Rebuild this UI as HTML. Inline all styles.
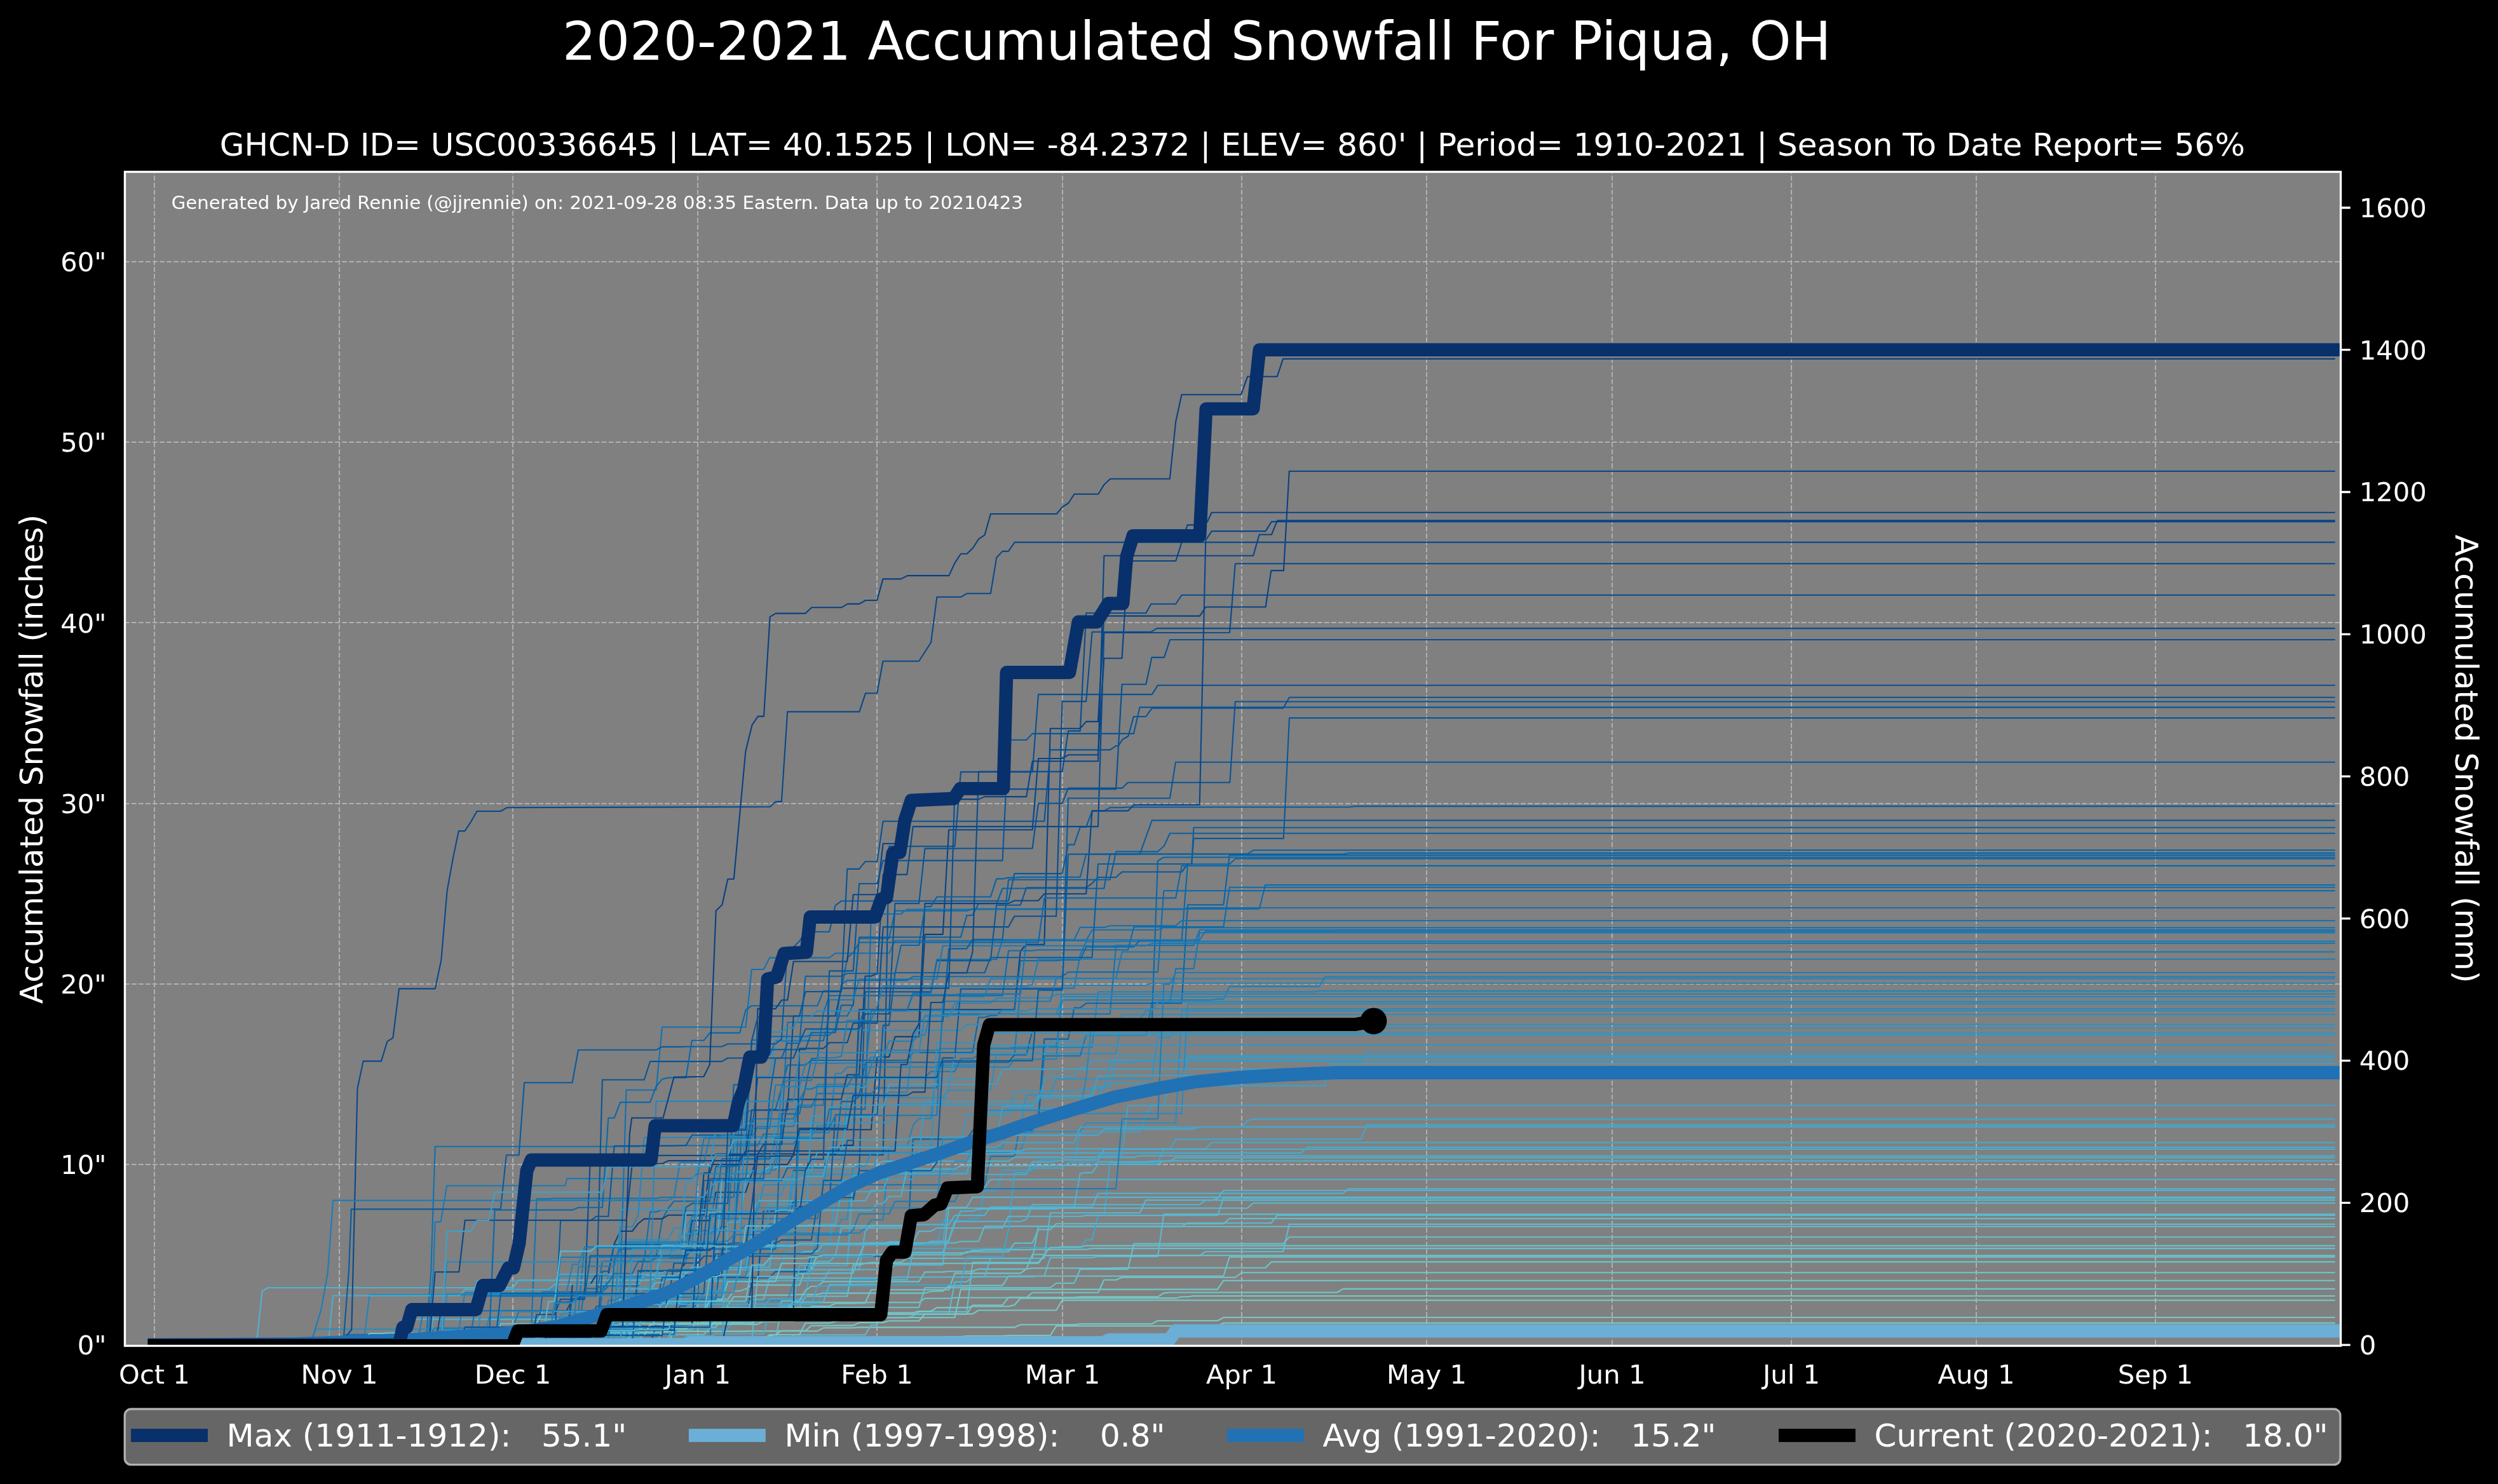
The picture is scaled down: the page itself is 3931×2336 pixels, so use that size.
<!DOCTYPE html><html><head><meta charset="utf-8"><title>2020-2021 Accumulated Snowfall For Piqua, OH</title>
<style>html,body{margin:0;padding:0;background:#000;}body{width:3931px;height:2336px;overflow:hidden;}svg{display:block;}text{font-family:"DejaVu Sans", "Liberation Sans", sans-serif;fill:#fff;white-space:pre;}svg{will-change:transform;}</style></head><body>
<svg xmlns="http://www.w3.org/2000/svg" width="3931" height="2336" viewBox="0 0 3931 2336">
<rect x="0" y="0" width="3931" height="2336" fill="#000"/>
<rect x="196.5" y="270.5" width="3487.0" height="1848.0" fill="#808080"/>
<defs><clipPath id="ax"><rect x="196.5" y="270.5" width="3487.0" height="1848.0"/></clipPath></defs>
<path d="M243 2117.2V270.5M534 2117.2V270.5M807 2117.2V270.5M1098 2117.2V270.5M1380 2117.2V270.5M1672 2117.2V270.5M1954 2117.2V270.5M2245 2117.2V270.5M2537 2117.2V270.5M2819 2117.2V270.5M3110 2117.2V270.5M3392 2117.2V270.5M196 1833H3683.5M196 1549H3683.5M196 1265H3683.5M196 980H3683.5M196 696H3683.5M196 412H3683.5" stroke="#b0b0b0" stroke-width="2" fill="none" stroke-dasharray="7.708 3.333"/>
<g clip-path="url(#ax)">
<path d="M243.0 2117.2 L1051.3 2117.2 L1060.7 2092.4 L1088.9 2092.4 L1098.3 2070.3 L1107.7 2070.3 L1117.1 2067.3 L1154.7 2067.3 L1164.1 2061.6 L1239.3 2061.6 L1248.7 2050.3 L1446.1 2050.3 L1455.5 2043.7 L1493.1 2043.7 L1502.5 2042.8 L1615.2 2042.8 L1624.6 2034.8 L1728.0 2034.8 L1737.4 2014.8 L1756.2 2014.8 L1765.6 2010.8 L1944.2 2010.8 L1953.6 2003.2 L3673.6 2003.2" stroke="#70c6c8" stroke-width="2.083" fill="none" stroke-linejoin="round" stroke-linecap="square"/>
<path d="M243.0 2117.2 L919.7 2117.2 L929.1 2103.4 L938.5 2102.8 L994.9 2102.8 L1004.3 2097.4 L1041.9 2097.4 L1051.3 2095.6 L1173.5 2095.6 L1182.9 2095.2 L1220.5 2095.2 L1229.9 2095.2 L1286.3 2095.2 L1295.7 2090.3 L1342.7 2090.3 L1352.1 2089.4 L1596.4 2089.4 L1605.8 2085.3 L1690.4 2085.3 L1699.8 2084.0 L1812.6 2084.0 L1822.0 2079.0 L1916.0 2079.0 L1925.4 2073.8 L3673.6 2073.8" stroke="#79cbc5" stroke-width="2.083" fill="none" stroke-linejoin="round" stroke-linecap="square"/>
<path d="M243.0 2117.2 L778.7 2117.2 L788.1 2113.3 L957.3 2113.3 L966.7 2072.6 L976.1 2072.6 L985.5 2072.5 L1098.3 2072.5 L1107.7 2067.0 L1117.1 2045.2 L1145.3 2045.2 L1154.7 2032.3 L1164.1 2032.3 L1173.5 2029.1 L1182.9 2022.9 L1258.1 2022.9 L1267.5 1995.9 L1276.9 1995.9 L1286.3 1976.7 L1417.9 1976.7 L1427.3 1972.2 L1521.3 1972.2 L1530.6 1968.2 L1540.0 1968.2 L1549.4 1967.2 L1615.2 1967.2 L1624.6 1966.7 L1709.2 1966.7 L1718.6 1965.1 L3673.6 1965.1" stroke="#68c1ca" stroke-width="2.083" fill="none" stroke-linejoin="round" stroke-linecap="square"/>
<path d="M243.0 2117.2 L844.5 2117.2 L853.9 2033.7 L947.9 2033.7 L957.3 2024.2 L1004.3 2024.2 L1013.7 1977.5 L1032.5 1977.5 L1041.9 1919.9 L1051.3 1902.5 L1060.7 1890.7 L1117.1 1890.7 L1126.5 1836.1 L1154.7 1836.1 L1164.1 1830.9 L1173.5 1661.3 L1211.1 1661.3 L1220.5 1638.3 L1295.7 1638.3 L1305.1 1599.3 L1333.3 1599.3 L1342.7 1581.5 L1352.1 1477.3 L1399.1 1477.3 L1408.5 1433.8 L1521.3 1433.8 L1530.6 1430.7 L1981.8 1430.7 L1991.2 1393.0 L3673.6 1393.0" stroke="#0a6aad" stroke-width="2.083" fill="none" stroke-linejoin="round" stroke-linecap="square"/>
<path d="M243.0 2117.2 L609.6 2117.2 L619.0 2100.4 L797.5 2100.4 L806.9 2086.2 L882.1 2086.2 L891.5 2085.7 L947.9 2085.7 L957.3 2067.0 L1079.5 2067.0 L1088.9 2062.5 L1145.3 2062.5 L1154.7 2058.9 L1164.1 2052.2 L1286.3 2052.2 L1295.7 2031.6 L1333.3 2031.6 L1342.7 2014.0 L1389.7 2014.0 L1399.1 1959.6 L1474.3 1959.6 L1483.7 1921.4 L1521.3 1921.4 L1530.6 1918.1 L1540.0 1918.1 L1549.4 1874.2 L1568.2 1874.2 L1577.6 1841.9 L1624.6 1841.9 L1634.0 1825.9 L1690.4 1825.9 L1699.8 1781.4 L1793.8 1781.4 L1803.2 1756.6 L1812.6 1739.2 L1831.4 1739.2 L1840.8 1709.1 L2085.2 1709.1 L2094.6 1674.4 L3673.6 1674.4" stroke="#3c9fc8" stroke-width="2.083" fill="none" stroke-linejoin="round" stroke-linecap="square"/>
<path d="M243.0 2117.2 L572.0 2117.2 L581.4 2038.1 L938.5 2038.1 L947.9 2036.3 L957.3 2009.7 L1173.5 2009.7 L1182.9 1964.5 L1211.1 1964.5 L1220.5 1941.0 L1352.1 1941.0 L1361.5 1933.4 L1370.9 1920.3 L1389.7 1920.3 L1399.1 1805.7 L1427.3 1805.7 L1436.7 1771.5 L1446.1 1760.6 L1464.9 1760.6 L1474.3 1676.6 L1540.0 1676.6 L1549.4 1650.0 L1587.0 1650.0 L1596.4 1648.6 L1718.6 1648.6 L1728.0 1561.3 L2066.4 1561.3 L2075.8 1559.9 L3673.6 1559.9" stroke="#2283ba" stroke-width="2.083" fill="none" stroke-linejoin="round" stroke-linecap="square"/>
<path d="M243.0 2117.2 L487.4 2117.2 L496.8 2108.4 L637.8 2108.4 L647.2 2076.9 L966.7 2076.9 L976.1 2043.3 L985.5 2028.8 L1041.9 2028.8 L1051.3 2024.5 L1098.3 2024.5 L1107.7 2016.9 L1117.1 2016.5 L1192.3 2016.5 L1201.7 2015.8 L1258.1 2015.8 L1267.5 2015.7 L1295.7 2015.7 L1305.1 1998.9 L1352.1 1998.9 L1361.5 1938.2 L1370.9 1929.1 L1417.9 1929.1 L1427.3 1927.6 L1493.1 1927.6 L1502.5 1913.1 L1549.4 1913.1 L1558.8 1899.7 L1690.4 1899.7 L1699.8 1847.2 L1709.2 1845.9 L1718.6 1845.9 L1728.0 1832.7 L1822.0 1832.7 L1831.4 1827.5 L3673.6 1827.5" stroke="#4db2d3" stroke-width="2.083" fill="none" stroke-linejoin="round" stroke-linecap="square"/>
<path d="M243.0 2117.2 L750.5 2117.2 L759.9 2029.6 L872.7 2029.6 L882.1 2008.7 L976.1 2008.7 L985.5 1951.6 L1051.3 1951.6 L1060.7 1933.0 L1079.5 1933.0 L1088.9 1915.0 L1154.7 1915.0 L1164.1 1825.2 L1323.9 1825.2 L1333.3 1728.0 L1483.7 1728.0 L1493.1 1716.0 L1540.0 1716.0 L1549.4 1715.7 L1558.8 1715.7 L1568.2 1658.4 L1756.2 1658.4 L1765.6 1596.9 L3673.6 1596.9" stroke="#2c8ebf" stroke-width="2.083" fill="none" stroke-linejoin="round" stroke-linecap="square"/>
<path d="M243.0 2117.2 L525.0 2117.2 L534.4 2115.4 L581.4 2115.4 L590.8 2100.6 L675.3 2100.6 L684.7 2090.5 L806.9 2090.5 L816.3 2064.4 L910.3 2064.4 L919.7 1963.0 L1070.1 1963.0 L1079.5 1942.1 L1117.1 1942.1 L1126.5 1936.2 L1135.9 1931.0 L1145.3 1931.0 L1154.7 1800.8 L1248.7 1800.8 L1258.1 1782.1 L1295.7 1782.1 L1305.1 1772.8 L1314.5 1695.6 L1455.5 1695.6 L1464.9 1686.8 L1502.5 1686.8 L1511.9 1666.3 L1530.6 1666.3 L1540.0 1660.1 L1596.4 1660.1 L1605.8 1555.5 L1690.4 1555.5 L1699.8 1503.0 L1709.2 1482.5 L1756.2 1482.5 L1765.6 1481.7 L3673.6 1481.7" stroke="#1878b4" stroke-width="2.083" fill="none" stroke-linejoin="round" stroke-linecap="square"/>
<path d="M243.0 2117.2 L816.3 2117.2 L825.7 2095.7 L994.9 2095.7 L1004.3 2000.7 L1070.1 2000.7 L1079.5 1985.9 L1088.9 1921.4 L1117.1 1921.4 L1126.5 1876.7 L1173.5 1876.7 L1182.9 1847.9 L1192.3 1816.3 L1248.7 1816.3 L1258.1 1778.2 L1370.9 1778.2 L1380.3 1663.9 L1399.1 1663.9 L1408.5 1631.9 L1446.1 1631.9 L1455.5 1470.9 L1483.7 1470.9 L1493.1 1306.3 L1624.6 1306.3 L1634.0 1194.0 L1671.6 1194.0 L1681.0 1188.3 L1728.0 1188.3 L1737.4 1036.3 L1765.6 1036.3 L1775.0 883.0 L1783.9 883.0 L1850.3 883.0 L1859.5 854.0 L1868.7 826.4 L1877.8 826.4 L1900.0 821.3 L1906.7 806.7 L3673.6 806.7" stroke="#084384" stroke-width="2.083" fill="none" stroke-linejoin="round" stroke-linecap="square"/>
<path d="M243.0 2117.2 L910.3 2117.2 L919.7 2088.7 L929.1 2088.7 L938.5 2085.9 L947.9 2085.9 L957.3 2076.7 L994.9 2076.7 L1004.3 2073.7 L1088.9 2073.7 L1098.3 2040.1 L1107.7 1858.2 L1229.9 1858.2 L1239.3 1838.2 L1295.7 1838.2 L1305.1 1816.7 L1314.5 1816.7 L1323.9 1733.9 L1342.7 1733.9 L1352.1 1725.0 L1361.5 1672.2 L1587.0 1672.2 L1596.4 1660.4 L1615.2 1660.4 L1624.6 1621.8 L1643.4 1621.8 L1652.8 1611.7 L1812.6 1611.7 L1822.0 1355.0 L1831.4 1349.5 L3673.6 1349.5" stroke="#0866a9" stroke-width="2.083" fill="none" stroke-linejoin="round" stroke-linecap="square"/>
<path d="M243.0 2117.2 L825.7 2117.2 L835.1 2098.4 L910.3 2098.4 L919.7 2028.4 L938.5 2028.4 L947.9 2024.0 L976.1 2024.0 L985.5 1715.8 L1032.5 1715.8 L1041.9 1616.8 L1173.5 1616.8 L1182.9 1526.0 L1201.7 1526.0 L1211.1 1507.6 L1305.1 1507.6 L1314.5 1500.5 L1399.1 1500.5 L1408.5 1480.8 L1709.2 1480.8 L1718.6 1463.7 L1822.0 1463.7 L1831.4 1460.3 L3673.6 1460.3" stroke="#1171b1" stroke-width="2.083" fill="none" stroke-linejoin="round" stroke-linecap="square"/>
<path d="M243.0 2117.2 L938.5 2117.2 L947.9 2109.9 L985.5 2109.9 L994.9 2050.9 L1051.3 2050.9 L1060.7 1988.2 L1098.3 1988.2 L1107.7 1977.2 L1211.1 1977.2 L1220.5 1957.6 L1229.9 1920.5 L1239.3 1920.5 L1248.7 1891.1 L1314.5 1891.1 L1323.9 1889.7 L1342.7 1889.7 L1352.1 1841.3 L1361.5 1561.3 L1464.9 1561.3 L1474.3 1512.1 L1558.8 1512.1 L1568.2 1424.7 L1605.8 1424.7 L1615.2 1397.3 L1709.2 1397.3 L1718.6 1390.6 L1728.0 1381.0 L1756.2 1381.0 L1765.6 1372.5 L1859.6 1372.5 L1869.0 1360.0 L1875.3 1360.0 L1878.4 1319.9 L2019.9 1319.9 L2029.0 1130.1 L3673.6 1130.1" stroke="#085799" stroke-width="2.083" fill="none" stroke-linejoin="round" stroke-linecap="square"/>
<path d="M243.0 2117.2 L835.1 2117.2 L844.5 1887.1 L863.3 1887.1 L872.7 1886.4 L1032.5 1886.4 L1041.9 1884.8 L1154.7 1884.8 L1164.1 1752.7 L1173.5 1752.7 L1182.9 1747.3 L1229.9 1747.3 L1239.3 1746.2 L1248.7 1746.2 L1258.1 1742.8 L1276.9 1742.8 L1286.3 1721.4 L1370.9 1721.4 L1380.3 1712.5 L1474.3 1712.5 L1483.7 1596.1 L1746.8 1596.1 L1756.2 1488.1 L1878.4 1488.1 L1887.8 1463.7 L3673.6 1463.7" stroke="#1373b2" stroke-width="2.083" fill="none" stroke-linejoin="round" stroke-linecap="square"/>
<path d="M243.0 2117.2 L1023.1 2117.2 L1032.5 2084.8 L1173.5 2084.8 L1182.9 2018.0 L1192.3 2018.0 L1201.7 1906.5 L1239.3 1906.5 L1248.7 1842.6 L1267.5 1842.6 L1276.9 1817.9 L1389.7 1817.9 L1399.1 1332.3 L1502.5 1332.3 L1511.9 1215.1 L1624.6 1215.1 L1634.0 1093.1 L1760.0 1093.1 L1812.8 1093.1 L1822.0 1078.8 L3673.6 1078.8" stroke="#085093" stroke-width="2.083" fill="none" stroke-linejoin="round" stroke-linecap="square"/>
<path d="M243.0 2117.2 L572.0 2117.2 L581.4 2102.7 L929.1 2102.7 L938.5 2099.0 L1023.1 2099.0 L1032.5 2089.3 L1041.9 2089.3 L1051.3 2086.2 L1060.7 2086.2 L1070.1 2082.9 L1135.9 2082.9 L1145.3 2054.8 L1154.7 2041.2 L1182.9 2041.2 L1192.3 2038.6 L1248.7 2038.6 L1258.1 2037.6 L1286.3 2037.6 L1295.7 2035.6 L1455.5 2035.6 L1464.9 2033.0 L1474.3 2032.4 L1483.7 2032.4 L1493.1 2024.0 L1521.3 2024.0 L1530.6 2023.6 L1577.6 2023.6 L1587.0 2008.7 L1925.4 2008.7 L1934.8 1978.6 L3673.6 1978.6" stroke="#6cc4c9" stroke-width="2.083" fill="none" stroke-linejoin="round" stroke-linecap="square"/>
<path d="M243.0 2117.2 L1117.1 2117.2 L1126.5 1918.3 L1286.3 1918.3 L1295.7 1865.0 L1549.4 1865.0 L1558.8 1820.1 L1596.4 1820.1 L1605.8 1765.7 L1634.0 1765.7 L1643.4 1662.1 L1699.8 1662.1 L1709.2 1629.6 L1803.2 1629.6 L1812.6 1578.3 L1840.8 1578.3 L1850.2 1524.9 L1878.4 1524.9 L1887.8 1468.2 L3673.6 1468.2" stroke="#1576b3" stroke-width="2.083" fill="none" stroke-linejoin="round" stroke-linecap="square"/>
<path d="M243.0 2117.2 L694.1 2117.2 L703.5 2093.5 L788.1 2093.5 L797.5 2089.1 L1041.9 2089.1 L1051.3 2071.5 L1088.9 2071.5 L1098.3 2070.8 L1135.9 2070.8 L1145.3 1983.8 L1173.5 1983.8 L1182.9 1963.2 L1201.7 1963.2 L1211.1 1903.3 L1239.3 1903.3 L1248.7 1844.0 L1540.0 1844.0 L1549.4 1750.2 L1587.0 1750.2 L1596.4 1744.6 L1709.2 1744.6 L1718.6 1711.1 L1746.8 1711.1 L1756.2 1661.8 L3673.6 1661.8" stroke="#379ac5" stroke-width="2.083" fill="none" stroke-linejoin="round" stroke-linecap="square"/>
<path d="M243.0 2117.2 L397.0 2117.2 L405.0 2103.0 L412.6 2032.4 L421.8 2027.0 L700.0 2027.0 L806.9 2027.0 L816.3 2015.1 L1023.1 2015.1 L1032.5 2011.9 L1126.5 2011.9 L1135.9 2011.5 L1173.5 2011.5 L1182.9 1999.1 L1276.9 1999.1 L1286.3 1985.9 L1305.1 1985.9 L1314.5 1976.9 L1323.9 1933.0 L1333.3 1933.0 L1342.7 1933.0 L1427.3 1933.0 L1436.7 1915.5 L1464.9 1915.5 L1474.3 1888.0 L1483.7 1873.0 L1493.1 1873.0 L1502.5 1869.3 L1549.4 1869.3 L1558.8 1856.8 L3673.6 1856.8" stroke="#4fb3d3" stroke-width="2.083" fill="none" stroke-linejoin="round" stroke-linecap="square"/>
<path d="M243.0 2117.2 L694.1 2117.2 L703.5 2113.0 L722.3 2113.0 L731.7 2101.5 L900.9 2101.5 L910.3 2077.7 L929.1 2077.7 L938.5 2056.2 L1032.5 2056.2 L1041.9 2011.1 L1211.1 2011.1 L1220.5 2001.6 L1267.5 2001.6 L1276.9 1977.4 L1389.7 1977.4 L1399.1 1977.2 L1427.3 1977.2 L1436.7 1793.3 L1521.3 1793.3 L1530.6 1779.5 L1624.6 1779.5 L1634.0 1759.6 L1643.4 1635.6 L1681.0 1635.6 L1690.4 1586.6 L1699.8 1586.6 L1709.2 1579.2 L1859.6 1579.2 L1869.0 1424.2 L1925.4 1424.2 L1934.8 1346.1 L3673.6 1346.1" stroke="#0864a8" stroke-width="2.083" fill="none" stroke-linejoin="round" stroke-linecap="square"/>
<path d="M243.0 2117.2 L722.3 2117.2 L731.7 2108.2 L1004.3 2108.2 L1013.7 2100.8 L1107.7 2100.8 L1117.1 2089.2 L1126.5 2089.2 L1135.9 2075.5 L1154.7 2075.5 L1164.1 2074.5 L1427.3 2074.5 L1436.7 2071.7 L1446.1 2064.9 L1521.3 2064.9 L1530.6 1987.0 L1634.0 1987.0 L1643.4 1976.3 L1887.8 1976.3 L1897.2 1970.2 L2019.4 1970.2 L2028.8 1927.0 L3673.6 1927.0" stroke="#61bdcd" stroke-width="2.083" fill="none" stroke-linejoin="round" stroke-linecap="square"/>
<path d="M243.0 2117.2 L891.5 2117.2 L900.9 2109.8 L910.3 2109.8 L919.7 2109.7 L985.5 2109.7 L994.9 2056.5 L1041.9 2056.5 L1051.3 2051.0 L1126.5 2051.0 L1135.9 2049.0 L1173.5 2049.0 L1182.9 2047.3 L1239.3 2047.3 L1248.7 2018.9 L1258.1 2004.5 L1267.5 2004.5 L1276.9 1989.6 L1286.3 1941.6 L1314.5 1941.6 L1323.9 1919.2 L1333.3 1919.2 L1342.7 1836.1 L1361.5 1836.1 L1370.9 1814.2 L1380.3 1814.2 L1389.7 1814.2 L1605.8 1814.2 L1615.2 1781.3 L1699.8 1781.3 L1709.2 1767.8 L1850.2 1767.8 L1859.6 1591.0 L3673.6 1591.0" stroke="#2b8cbe" stroke-width="2.083" fill="none" stroke-linejoin="round" stroke-linecap="square"/>
<path d="M243.0 2117.2 L891.5 2117.2 L900.9 2021.9 L929.1 2021.9 L938.5 2006.3 L957.3 2006.3 L966.7 1957.7 L976.1 1938.0 L994.9 1938.0 L1004.3 1926.0 L1013.7 1918.6 L1041.9 1918.6 L1051.3 1912.8 L1107.7 1912.8 L1117.1 1833.0 L1239.3 1833.0 L1248.7 1817.4 L1314.5 1817.4 L1323.9 1802.9 L1342.7 1802.9 L1352.1 1589.2 L1596.4 1589.2 L1605.8 1497.0 L1615.2 1486.7 L1643.4 1486.7 L1652.8 1146.7 L1699.8 1146.7 L1709.2 1135.9 L1728.0 1135.9 L1737.4 969.6 L1740.4 969.6 L1888.1 969.6 L1897.3 955.5 L1991.6 955.5 L2000.3 898.1 L2020.0 898.1 L2028.8 741.8 L3673.6 741.8" stroke="#084182" stroke-width="2.083" fill="none" stroke-linejoin="round" stroke-linecap="square"/>
<path d="M243.0 2117.2 L712.9 2117.2 L722.3 2100.5 L1060.7 2100.5 L1070.1 2055.6 L1079.5 2055.6 L1088.9 2045.5 L1126.5 2045.5 L1135.9 1967.2 L1145.3 1966.1 L1154.7 1966.1 L1164.1 1819.3 L1201.7 1819.3 L1211.1 1746.0 L1220.5 1746.0 L1229.9 1713.0 L1239.3 1676.5 L1267.5 1676.5 L1276.9 1669.0 L1427.3 1669.0 L1436.7 1656.8 L1530.6 1656.8 L1540.0 1601.5 L1549.4 1601.5 L1558.8 1598.5 L1568.2 1598.5 L1577.6 1589.1 L1596.4 1589.1 L1605.8 1512.2 L1662.2 1512.2 L1671.6 1511.0 L1699.8 1511.0 L1709.2 1490.4 L1784.4 1490.4 L1793.8 1480.0 L1859.6 1480.0 L1869.0 1360.2 L1934.8 1360.2 L1944.2 1351.8 L3673.6 1351.8" stroke="#0867ab" stroke-width="2.083" fill="none" stroke-linejoin="round" stroke-linecap="square"/>
<path d="M243.0 2117.2 L976.1 2117.2 L985.5 2091.1 L1004.3 2091.1 L1013.7 2069.1 L1032.5 2069.1 L1041.9 2051.3 L1070.1 2051.3 L1079.5 1998.5 L1399.1 1998.5 L1408.5 1991.1 L1483.7 1991.1 L1493.1 1900.5 L1521.3 1900.5 L1530.6 1884.6 L3673.6 1884.6" stroke="#54b6d1" stroke-width="2.083" fill="none" stroke-linejoin="round" stroke-linecap="square"/>
<path d="M243.0 2117.2 L976.1 2117.2 L985.5 1957.3 L1079.5 1957.3 L1088.9 1914.2 L1135.9 1914.2 L1145.3 1860.2 L1192.3 1860.2 L1201.7 1841.9 L1220.5 1841.9 L1229.9 1782.9 L1305.1 1782.9 L1314.5 1689.8 L1323.9 1689.8 L1333.3 1679.7 L1587.0 1679.7 L1596.4 1667.3 L1662.2 1667.3 L1671.6 1551.0 L1803.2 1551.0 L1812.6 1547.8 L3673.6 1547.8" stroke="#2182b9" stroke-width="2.083" fill="none" stroke-linejoin="round" stroke-linecap="square"/>
<path d="M243.0 2117.2 L759.9 2117.2 L769.3 2117.1 L938.5 2117.1 L947.9 2116.4 L1041.9 2116.4 L1051.3 2108.5 L1220.5 2108.5 L1229.9 2057.7 L1258.1 2057.7 L1267.5 2040.5 L1333.3 2040.5 L1342.7 1991.4 L1352.1 1991.4 L1361.5 1989.1 L1370.9 1987.2 L1417.9 1987.2 L1427.3 1980.8 L1624.6 1980.8 L1634.0 1930.7 L3673.6 1930.7" stroke="#62becc" stroke-width="2.083" fill="none" stroke-linejoin="round" stroke-linecap="square"/>
<path d="M243.0 2117.2 L670.0 2117.2 L678.3 2000.0 L684.7 1804.8 L1000.0 1804.8 L1004.3 1804.8 L1013.7 1803.3 L1192.3 1803.3 L1201.7 1785.3 L1229.9 1785.3 L1239.3 1609.3 L1295.7 1609.3 L1305.1 1609.2 L1323.9 1609.2 L1333.3 1608.5 L1352.1 1608.5 L1361.5 1590.1 L1427.3 1590.1 L1436.7 1563.2 L1464.9 1563.2 L1474.3 1510.2 L1568.2 1510.2 L1577.6 1479.3 L1690.4 1479.3 L1699.8 1459.9 L1737.4 1459.9 L1746.8 1457.2 L1850.2 1457.2 L1859.6 1449.2 L3673.6 1449.2" stroke="#1070b0" stroke-width="2.083" fill="none" stroke-linejoin="round" stroke-linecap="square"/>
<path d="M243.0 2117.2 L647.2 2117.2 L656.6 2114.7 L731.7 2114.7 L741.1 2113.7 L806.9 2113.7 L816.3 2111.9 L825.7 2111.9 L835.1 2111.8 L863.3 2111.8 L872.7 2108.9 L985.5 2108.9 L994.9 2107.5 L1126.5 2107.5 L1135.9 2107.4 L1173.5 2107.4 L1182.9 2107.3 L1201.7 2107.3 L1211.1 2103.3 L1220.5 2100.8 L1229.9 2094.8 L1267.5 2094.8 L1276.9 2086.8 L1305.1 2086.8 L1314.5 2086.6 L1342.7 2086.6 L1352.1 2082.0 L1389.7 2082.0 L1399.1 2079.2 L1446.1 2079.2 L1455.5 2068.3 L1530.6 2068.3 L1540.0 2062.5 L1662.2 2062.5 L1671.6 2046.8 L3673.6 2046.8" stroke="#77cac5" stroke-width="2.083" fill="none" stroke-linejoin="round" stroke-linecap="square"/>
<path d="M243.0 2117.2 L1098.3 2117.2 L1107.7 2114.0 L1182.9 2114.0 L1192.3 2009.5 L1248.7 2009.5 L1258.1 2004.9 L1295.7 2004.9 L1305.1 2004.1 L1342.7 2004.1 L1352.1 1976.7 L1361.5 1956.5 L1502.5 1956.5 L1511.9 1954.2 L1530.6 1954.2 L1540.0 1953.9 L1549.4 1930.4 L1859.6 1930.4 L1869.0 1925.2 L2000.6 1925.2 L2010.0 1912.9 L3673.6 1912.9" stroke="#5dbbce" stroke-width="2.083" fill="none" stroke-linejoin="round" stroke-linecap="square"/>
<path d="M243.0 2117.2 L891.5 2117.2 L900.9 2116.8 L938.5 2116.8 L947.9 2080.2 L1051.3 2080.2 L1060.7 2042.9 L1070.1 2038.0 L1098.3 2038.0 L1107.7 2034.0 L1126.5 2034.0 L1135.9 2025.2 L1154.7 2025.2 L1164.1 1999.0 L1182.9 1999.0 L1192.3 1989.8 L1229.9 1989.8 L1239.3 1970.4 L1295.7 1970.4 L1305.1 1962.4 L1314.5 1877.3 L1323.9 1858.1 L1333.3 1858.1 L1342.7 1856.6 L1436.7 1856.6 L1446.1 1817.6 L1455.5 1734.3 L1634.0 1734.3 L1643.4 1699.5 L1652.8 1694.1 L1690.4 1694.1 L1699.8 1681.1 L1709.2 1681.1 L1718.6 1669.1 L1746.8 1669.1 L1756.2 1668.7 L3673.6 1668.7" stroke="#3a9cc7" stroke-width="2.083" fill="none" stroke-linejoin="round" stroke-linecap="square"/>
<path d="M243.0 2117.2 L891.5 2117.2 L900.9 2113.5 L938.5 2113.5 L947.9 2104.8 L957.3 2104.8 L966.7 2101.9 L976.1 2101.9 L985.5 2046.1 L1070.1 2046.1 L1079.5 2031.6 L1135.9 2031.6 L1145.3 1964.0 L1239.3 1964.0 L1248.7 1844.2 L1295.7 1844.2 L1305.1 1815.1 L1464.9 1815.1 L1474.3 1641.5 L1540.0 1641.5 L1549.4 1625.9 L3673.6 1625.9" stroke="#3192c1" stroke-width="2.083" fill="none" stroke-linejoin="round" stroke-linecap="square"/>
<path d="M243.0 2117.2 L797.5 2117.2 L806.9 2116.0 L882.1 2116.0 L891.5 2091.7 L1145.3 2091.7 L1154.7 2080.5 L1164.1 2067.9 L1173.5 2058.7 L1201.7 2058.7 L1211.1 2044.4 L1267.5 2044.4 L1276.9 1978.4 L1370.9 1978.4 L1380.3 1974.3 L1389.7 1974.3 L1399.1 1972.3 L1408.5 1965.2 L1596.4 1965.2 L1605.8 1964.0 L1699.8 1964.0 L1709.2 1951.7 L1718.6 1951.7 L1728.0 1913.1 L1737.4 1913.1 L1746.8 1830.3 L1822.0 1830.3 L1831.4 1808.5 L1840.8 1808.5 L1850.2 1793.4 L2141.6 1793.4 L2151.0 1770.6 L3673.6 1770.6" stroke="#42a6cc" stroke-width="2.083" fill="none" stroke-linejoin="round" stroke-linecap="square"/>
<path d="M243.0 2117.2 L534.4 2117.2 L543.8 2100.9 L741.1 2100.9 L750.5 2040.1 L938.5 2040.1 L947.9 1985.6 L1013.7 1985.6 L1023.1 1907.6 L1032.5 1907.6 L1041.9 1904.7 L1126.5 1904.7 L1135.9 1824.1 L1211.1 1824.1 L1220.5 1791.6 L1295.7 1791.6 L1305.1 1745.9 L1361.5 1745.9 L1370.9 1438.7 L1417.9 1438.7 L1427.3 1431.5 L1859.6 1431.5 L1869.0 1429.0 L3673.6 1429.0" stroke="#0f6faf" stroke-width="2.083" fill="none" stroke-linejoin="round" stroke-linecap="square"/>
<path d="M243.0 2117.2 L510.0 2117.2 L517.8 2103.4 L524.0 2039.5 L720.0 2039.5 L722.3 2039.5 L731.7 2029.8 L863.3 2029.8 L872.7 2021.7 L1004.3 2021.7 L1013.7 2008.1 L1060.7 2008.1 L1070.1 2003.8 L1079.5 2001.5 L1117.1 2001.5 L1126.5 1993.5 L1135.9 1855.4 L1173.5 1855.4 L1182.9 1842.9 L1201.7 1842.9 L1211.1 1837.1 L1220.5 1837.1 L1229.9 1836.2 L1342.7 1836.2 L1352.1 1832.1 L1380.3 1832.1 L1389.7 1827.9 L1587.0 1827.9 L1596.4 1821.6 L1784.4 1821.6 L1793.8 1819.5 L3673.6 1819.5" stroke="#4aafd1" stroke-width="2.083" fill="none" stroke-linejoin="round" stroke-linecap="square"/>
<path d="M243.0 2117.2 L1051.3 2117.2 L1060.7 2111.8 L1070.1 2061.3 L1079.5 2058.4 L1117.1 2058.4 L1126.5 1911.0 L1201.7 1911.0 L1211.1 1895.7 L1258.1 1895.7 L1267.5 1843.3 L1276.9 1843.3 L1286.3 1812.9 L1305.1 1812.9 L1314.5 1812.6 L1323.9 1812.6 L1333.3 1758.1 L1370.9 1758.1 L1380.3 1743.6 L1389.7 1743.6 L1399.1 1706.9 L1568.2 1706.9 L1577.6 1683.0 L3673.6 1683.0" stroke="#3da0c9" stroke-width="2.083" fill="none" stroke-linejoin="round" stroke-linecap="square"/>
<path d="M243.0 2117.2 L1211.1 2117.2 L1220.5 2113.6 L1239.3 2113.6 L1248.7 2101.2 L1361.5 2101.2 L1370.9 2085.8 L1380.3 2085.8 L1389.7 2068.3 L1493.1 2068.3 L1502.5 2017.7 L1521.3 2017.7 L1530.6 2009.6 L1624.6 2009.6 L1634.0 2008.7 L1643.4 2008.7 L1652.8 1979.8 L1718.6 1979.8 L1728.0 1977.9 L1822.0 1977.9 L1831.4 1911.4 L3673.6 1911.4" stroke="#5bbacf" stroke-width="2.083" fill="none" stroke-linejoin="round" stroke-linecap="square"/>
<path d="M243.0 2117.2 L985.5 2117.2 L994.9 2088.3 L1023.1 2088.3 L1032.5 2077.3 L1126.5 2077.3 L1135.9 2058.1 L1446.1 2058.1 L1455.5 2027.0 L1652.8 2027.0 L1662.2 2019.9 L1690.4 2019.9 L1699.8 1998.0 L1756.2 1998.0 L1765.6 1997.9 L1775.0 1997.9 L1784.4 1957.8 L2019.4 1957.8 L2028.8 1947.3 L3673.6 1947.3" stroke="#65c0cb" stroke-width="2.083" fill="none" stroke-linejoin="round" stroke-linecap="square"/>
<path d="M243.0 2117.2 L534.4 2117.2 L543.8 2117.0 L844.5 2117.0 L853.9 2114.4 L1032.5 2114.4 L1041.9 2096.4 L1051.3 2096.4 L1060.7 2091.8 L1079.5 2091.8 L1088.9 2083.5 L1098.3 2083.5 L1107.7 2080.5 L1173.5 2080.5 L1182.9 2078.3 L1220.5 2078.3 L1229.9 2076.8 L1239.3 2070.5 L1267.5 2070.5 L1276.9 2056.2 L1305.1 2056.2 L1314.5 2051.8 L1342.7 2051.8 L1352.1 2051.3 L1361.5 2051.3 L1370.9 2030.2 L1493.1 2030.2 L1502.5 2004.4 L1605.8 2004.4 L1615.2 1997.4 L1624.6 1996.3 L1746.8 1996.3 L1756.2 1995.7 L1991.2 1995.7 L2000.6 1986.4 L3673.6 1986.4" stroke="#6ec5c8" stroke-width="2.083" fill="none" stroke-linejoin="round" stroke-linecap="square"/>
<path d="M243.0 2117.2 L966.7 2117.2 L976.1 2012.9 L1013.7 2012.9 L1023.1 1970.7 L1060.7 1970.7 L1070.1 1941.8 L1117.1 1941.8 L1126.5 1847.7 L1135.9 1828.0 L1154.7 1828.0 L1164.1 1694.9 L1211.1 1694.9 L1220.5 1636.9 L1267.5 1636.9 L1276.9 1621.9 L1511.9 1621.9 L1521.3 1612.6 L3673.6 1612.6" stroke="#2f90c0" stroke-width="2.083" fill="none" stroke-linejoin="round" stroke-linecap="square"/>
<path d="M243.0 2117.2 L966.7 2117.2 L976.1 1904.1 L1135.9 1904.1 L1145.3 1850.5 L1154.7 1849.0 L1164.1 1843.3 L1211.1 1843.3 L1220.5 1766.9 L1248.7 1766.9 L1258.1 1711.7 L1361.5 1711.7 L1370.9 1697.8 L1549.4 1697.8 L1558.8 1645.9 L1605.8 1645.9 L1615.2 1645.1 L3673.6 1645.1" stroke="#3496c3" stroke-width="2.083" fill="none" stroke-linejoin="round" stroke-linecap="square"/>
<path d="M243.0 2117.2 L778.7 2117.2 L788.1 2102.6 L872.7 2102.6 L882.1 2099.8 L938.5 2099.8 L947.9 2001.2 L957.3 2001.2 L966.7 1959.2 L1070.1 1959.2 L1079.5 1900.6 L1088.9 1894.4 L1145.3 1894.4 L1154.7 1707.5 L1164.1 1707.5 L1173.5 1695.3 L1182.9 1680.4 L1192.3 1652.1 L1201.7 1652.1 L1211.1 1652.1 L1267.5 1652.1 L1276.9 1625.5 L1314.5 1625.5 L1323.9 1582.4 L1342.7 1582.4 L1352.1 1475.3 L1511.9 1475.3 L1521.3 1441.0 L1530.6 1440.6 L1540.0 1422.3 L1568.2 1422.3 L1577.6 1398.5 L1737.4 1398.5 L1746.8 1344.2 L1793.6 1344.2 L1963.0 1344.2 L1972.6 1338.3 L3673.6 1338.3" stroke="#0861a4" stroke-width="2.083" fill="none" stroke-linejoin="round" stroke-linecap="square"/>
<path d="M243.0 2117.2 L675.3 2117.2 L684.7 2055.2 L741.1 2055.2 L750.5 2015.8 L872.7 2015.8 L882.1 2005.7 L1032.5 2005.7 L1041.9 1959.7 L1483.7 1959.7 L1493.1 1872.5 L1540.0 1872.5 L1549.4 1811.9 L1605.8 1811.9 L1615.2 1808.4 L1897.2 1808.4 L1906.6 1798.5 L3673.6 1798.5" stroke="#46aace" stroke-width="2.083" fill="none" stroke-linejoin="round" stroke-linecap="square"/>
<path d="M243.0 2117.2 L741.1 2117.2 L750.5 2115.8 L891.5 2115.8 L900.9 2098.2 L1041.9 2098.2 L1051.3 2088.6 L1117.1 2088.6 L1126.5 2080.5 L1164.1 2080.5 L1173.5 2080.5 L1220.5 2080.5 L1229.9 2047.7 L1258.1 2047.7 L1267.5 2031.1 L1276.9 2024.8 L1286.3 2024.8 L1295.7 2017.4 L1446.1 2017.4 L1455.5 2002.4 L1483.7 2002.4 L1493.1 2001.2 L1530.6 2001.2 L1540.0 1997.6 L1615.2 1997.6 L1624.6 1974.7 L1643.4 1974.7 L1652.8 1963.7 L1662.2 1963.7 L1671.6 1962.9 L1699.8 1962.9 L1709.2 1960.9 L3673.6 1960.9" stroke="#67c1cb" stroke-width="2.083" fill="none" stroke-linejoin="round" stroke-linecap="square"/>
<path d="M243.0 2117.2 L487.4 2117.2 L496.8 2092.2 L694.1 2092.2 L703.5 1986.4 L1079.5 1986.4 L1088.9 1956.0 L1117.1 1956.0 L1126.5 1917.3 L1135.9 1917.3 L1145.3 1907.4 L1192.3 1907.4 L1201.7 1865.0 L1295.7 1865.0 L1305.1 1809.9 L1314.5 1809.9 L1323.9 1805.8 L1549.4 1805.8 L1558.8 1783.2 L1587.0 1783.2 L1596.4 1782.8 L1624.6 1782.8 L1634.0 1755.0 L1690.4 1755.0 L1699.8 1752.9 L1859.6 1752.9 L1869.0 1580.2 L3673.6 1580.2" stroke="#298abd" stroke-width="2.083" fill="none" stroke-linejoin="round" stroke-linecap="square"/>
<path d="M243.0 2117.2 L816.3 2117.2 L825.7 2113.5 L994.9 2113.5 L1004.3 2049.6 L1070.1 2049.6 L1079.5 1909.1 L1098.3 1909.1 L1107.7 1908.8 L1182.9 1908.8 L1192.3 1890.2 L1361.5 1890.2 L1370.9 1873.7 L1521.3 1873.7 L1530.6 1848.7 L1615.2 1848.7 L1624.6 1828.9 L1652.8 1828.9 L1662.2 1828.0 L1671.6 1825.9 L1728.0 1825.9 L1737.4 1809.0 L3673.6 1809.0" stroke="#49add0" stroke-width="2.083" fill="none" stroke-linejoin="round" stroke-linecap="square"/>
<path d="M243.0 2117.2 L572.0 2117.2 L581.4 2099.0 L600.2 2099.0 L609.6 2098.3 L825.7 2098.3 L835.1 2095.8 L844.5 2095.8 L853.9 2093.8 L900.9 2093.8 L910.3 2088.0 L966.7 2088.0 L976.1 2083.8 L1145.3 2083.8 L1154.7 2082.8 L1182.9 2082.8 L1192.3 2076.2 L1229.9 2076.2 L1239.3 2075.2 L1286.3 2075.2 L1295.7 2069.1 L1342.7 2069.1 L1352.1 2068.7 L1521.3 2068.7 L1530.6 2054.5 L1577.6 2054.5 L1587.0 2042.3 L1690.4 2042.3 L1699.8 2041.3 L1822.0 2041.3 L1831.4 2035.4 L1840.8 2034.5 L2104.0 2034.5 L2113.4 2028.9 L3673.6 2028.9" stroke="#73c8c7" stroke-width="2.083" fill="none" stroke-linejoin="round" stroke-linecap="square"/>
<path d="M243.0 2117.2 L628.4 2117.2 L637.8 2116.4 L844.5 2116.4 L853.9 2115.4 L863.3 2114.9 L947.9 2114.9 L957.3 2046.9 L966.7 2046.9 L976.1 2042.0 L1135.9 2042.0 L1145.3 1993.2 L1173.5 1993.2 L1182.9 1938.3 L1201.7 1938.3 L1211.1 1926.6 L1248.7 1926.6 L1258.1 1792.3 L1276.9 1792.3 L1286.3 1706.8 L1361.5 1706.8 L1370.9 1677.1 L1380.3 1653.3 L1474.3 1653.3 L1483.7 1650.6 L1624.6 1650.6 L1634.0 1647.3 L1662.2 1647.3 L1671.6 1574.1 L1906.6 1574.1 L1916.0 1572.6 L1925.4 1572.6 L1934.8 1552.9 L2075.8 1552.9 L2085.2 1537.5 L3673.6 1537.5" stroke="#1e7fb7" stroke-width="2.083" fill="none" stroke-linejoin="round" stroke-linecap="square"/>
<path d="M243.0 2117.2 L673.0 2117.2 L682.0 2000.0 L684.7 1923.4 L693.6 1923.4 L703.1 1866.5 L889.5 1866.5 L892.1 1855.1 L1000.0 1855.1 L1088.9 1855.1 L1098.3 1846.5 L1107.7 1791.4 L1182.9 1791.4 L1192.3 1773.2 L1248.7 1773.2 L1258.1 1739.7 L1295.7 1739.7 L1305.1 1573.7 L1342.7 1573.7 L1352.1 1541.3 L1474.3 1541.3 L1483.7 1488.7 L1803.2 1488.7 L1812.6 1484.9 L3673.6 1484.9" stroke="#1979b5" stroke-width="2.083" fill="none" stroke-linejoin="round" stroke-linecap="square"/>
<path d="M243.0 2117.2 L1070.1 2117.2 L1079.5 2103.2 L1117.1 2103.2 L1126.5 2099.7 L1201.7 2099.7 L1211.1 2062.2 L1220.5 2062.2 L1229.9 2054.4 L1248.7 2054.4 L1258.1 1992.2 L1333.3 1992.2 L1342.7 1849.9 L1399.1 1849.9 L1408.5 1831.2 L1474.3 1831.2 L1483.7 1816.2 L1587.0 1816.2 L1596.4 1814.9 L2047.6 1814.9 L2057.0 1806.0 L3673.6 1806.0" stroke="#47abcf" stroke-width="2.083" fill="none" stroke-linejoin="round" stroke-linecap="square"/>
<path d="M243.0 2117.2 L759.9 2117.2 L769.3 2073.9 L788.1 2073.9 L797.5 2073.3 L966.7 2073.3 L976.1 1931.3 L994.9 1931.3 L1004.3 1913.6 L1013.7 1790.5 L1098.3 1790.5 L1107.7 1789.6 L1276.9 1789.6 L1286.3 1772.3 L1333.3 1772.3 L1342.7 1724.2 L1389.7 1724.2 L1399.1 1719.6 L1427.3 1719.6 L1436.7 1638.7 L1446.1 1611.1 L1455.5 1600.2 L1493.1 1600.2 L1502.5 1579.3 L1549.4 1579.3 L1558.8 1578.8 L1568.2 1571.3 L1596.4 1571.3 L1605.8 1570.8 L1652.8 1570.8 L1662.2 1565.1 L1859.6 1565.1 L1869.0 1564.6 L3673.6 1564.6" stroke="#2586bb" stroke-width="2.083" fill="none" stroke-linejoin="round" stroke-linecap="square"/>
<path d="M243.0 2117.2 L938.5 2117.2 L947.9 2028.1 L957.3 2018.9 L966.7 2004.8 L994.9 2004.8 L1004.3 1985.9 L1023.1 1985.9 L1032.5 1980.3 L1098.3 1980.3 L1107.7 1957.8 L1126.5 1957.8 L1135.9 1928.9 L1145.3 1835.1 L1164.1 1835.1 L1173.5 1814.6 L1182.9 1637.1 L1201.7 1637.1 L1211.1 1631.6 L1267.5 1631.6 L1276.9 1629.6 L1305.1 1629.6 L1314.5 1620.1 L1323.9 1550.2 L1333.3 1543.1 L1427.3 1543.1 L1436.7 1537.3 L1587.0 1537.3 L1596.4 1537.2 L1671.6 1537.2 L1681.0 1530.1 L1822.0 1530.1 L1831.4 1402.1 L3673.6 1402.1" stroke="#0d6dae" stroke-width="2.083" fill="none" stroke-linejoin="round" stroke-linecap="square"/>
<path d="M243.0 2117.2 L540.0 2117.2 L549.0 2000.0 L552.8 1903.4 L787.8 1903.4 L796.8 1818.3 L816.6 1818.3 L825.1 1704.2 L900.6 1704.2 L910.0 1652.8 L1000.0 1652.8 L1032.5 1652.8 L1041.9 1647.9 L1070.1 1647.9 L1079.5 1647.5 L1135.9 1647.5 L1145.3 1643.3 L1220.5 1643.3 L1229.9 1635.4 L1239.3 1490.7 L1248.7 1490.7 L1258.1 1481.6 L1267.5 1466.7 L1305.1 1466.7 L1314.5 1425.3 L1323.9 1418.3 L1587.0 1418.3 L1596.4 1375.1 L1671.6 1375.1 L1681.0 1329.6 L1690.4 1329.6 L1699.8 1301.8 L1709.2 1301.8 L1718.6 1276.6 L1737.4 1276.6 L1746.8 1271.2 L1765.6 1271.2 L1775.0 1270.5 L2122.8 1270.5 L2132.2 1269.1 L3673.6 1269.1" stroke="#085a9d" stroke-width="2.083" fill="none" stroke-linejoin="round" stroke-linecap="square"/>
<path d="M243.0 2117.2 L684.7 2117.2 L694.1 2063.3 L1051.3 2063.3 L1060.7 2062.2 L1248.7 2062.2 L1258.1 1650.4 L1295.7 1650.4 L1305.1 1641.2 L1333.3 1641.2 L1342.7 1610.5 L1380.3 1610.5 L1389.7 1459.1 L1587.0 1459.1 L1596.4 1442.2 L1662.2 1442.2 L1671.6 1104.1 L1709.2 1104.1 L1718.6 994.8 L1747.2 994.8 L1811.4 994.8 L1820.5 989.1 L3673.6 989.1" stroke="#084d8e" stroke-width="2.083" fill="none" stroke-linejoin="round" stroke-linecap="square"/>
<path d="M243.0 2117.2 L535.0 2117.2 L545.0 2103.4 L553.3 2093.0 L562.5 1713.0 L571.7 1670.4 L600.0 1670.4 L609.3 1639.5 L618.4 1633.6 L628.0 1556.4 L684.8 1556.4 L694.3 1511.5 L703.6 1402.3 L713.3 1348.6 L721.8 1308.1 L731.5 1308.1 L740.8 1294.0 L750.5 1277.0 L787.7 1277.0 L797.8 1271.3 L1211.7 1270.0 L1220.6 1261.9 L1229.9 1261.9 L1239.2 1120.4 L1352.4 1120.4 L1362.0 1091.3 L1380.2 1091.3 L1389.5 1040.7 L1446.1 1040.7 L1465.1 1011.2 L1474.4 939.7 L1512.4 939.7 L1521.7 934.2 L1558.9 934.2 L1568.2 877.8 L1577.5 867.9 L1586.8 867.9 L1596.7 853.6 L3673.6 853.6" stroke="#084889" stroke-width="2.083" fill="none" stroke-linejoin="round" stroke-linecap="square"/>
<path d="M243.0 2117.2 L825.7 2117.2 L835.1 2092.1 L1060.7 2092.1 L1070.1 2066.5 L1107.7 2066.5 L1117.1 2036.4 L1135.9 2036.4 L1145.3 2015.6 L1182.9 2015.6 L1192.3 1881.4 L1229.9 1881.4 L1239.3 1853.4 L1248.7 1853.4 L1258.1 1848.9 L1493.1 1848.9 L1502.5 1827.9 L1521.3 1827.9 L1530.6 1807.1 L1577.6 1807.1 L1587.0 1773.8 L1605.8 1773.8 L1615.2 1723.4 L1652.8 1723.4 L1662.2 1698.2 L1812.6 1698.2 L1822.0 1633.1 L1840.8 1633.1 L1850.2 1618.0 L3673.6 1618.0" stroke="#3091c1" stroke-width="2.083" fill="none" stroke-linejoin="round" stroke-linecap="square"/>
<path d="M243.0 2117.2 L994.9 2117.2 L1004.3 2053.1 L1276.9 2053.1 L1286.3 2024.2 L1389.7 2024.2 L1399.1 2022.5 L1511.9 2022.5 L1521.3 1977.8 L1577.6 1977.8 L1587.0 1935.2 L1596.4 1845.9 L1615.2 1845.9 L1624.6 1838.6 L1671.6 1838.6 L1681.0 1829.5 L1718.6 1829.5 L1728.0 1818.6 L1765.6 1818.6 L1775.0 1740.2 L3673.6 1740.2" stroke="#40a4cb" stroke-width="2.083" fill="none" stroke-linejoin="round" stroke-linecap="square"/>
<path d="M243.0 2117.2 L985.5 2117.2 L994.9 2094.0 L1004.3 2094.0 L1013.7 2088.7 L1041.9 2088.7 L1051.3 2068.0 L1126.5 2068.0 L1135.9 2066.9 L1173.5 2066.9 L1182.9 2045.8 L1201.7 2045.8 L1211.1 2011.9 L1399.1 2011.9 L1408.5 2010.2 L1540.0 2010.2 L1549.4 2009.4 L1558.8 1980.7 L1643.4 1980.7 L1652.8 1909.3 L1793.8 1909.3 L1803.2 1889.1 L3673.6 1889.1" stroke="#57b8d0" stroke-width="2.083" fill="none" stroke-linejoin="round" stroke-linecap="square"/>
<path d="M243.0 2117.2 L759.9 2117.2 L769.3 2112.9 L797.5 2112.9 L806.9 2096.0 L994.9 2096.0 L1004.3 2052.3 L1023.1 2052.3 L1032.5 2004.1 L1041.9 2004.1 L1051.3 1998.6 L1173.5 1998.6 L1182.9 1939.8 L1192.3 1929.4 L1267.5 1929.4 L1276.9 1927.3 L1314.5 1927.3 L1323.9 1875.7 L1370.9 1875.7 L1380.3 1874.6 L1389.7 1874.6 L1399.1 1847.6 L1521.3 1847.6 L1530.6 1810.2 L1540.0 1810.2 L1549.4 1786.9 L1728.0 1786.9 L1737.4 1777.1 L1878.4 1777.1 L1887.8 1773.9 L3673.6 1773.9" stroke="#45a8cd" stroke-width="2.083" fill="none" stroke-linejoin="round" stroke-linecap="square"/>
<path d="M243.0 2117.2 L929.1 2117.2 L938.5 2088.1 L1051.3 2088.1 L1060.7 2085.5 L1088.9 2085.5 L1098.3 1950.3 L1107.7 1846.4 L1117.1 1846.4 L1126.5 1816.9 L1192.3 1816.9 L1201.7 1801.4 L1229.9 1801.4 L1239.3 1730.6 L1323.9 1730.6 L1333.3 1691.8 L1352.1 1691.8 L1361.5 1536.5 L1370.9 1536.5 L1380.3 1532.5 L1389.7 1376.6 L1427.3 1376.6 L1436.7 1301.1 L1728.0 1301.1 L1737.4 996.0 L1738.0 996.0 L1935.0 995.7 L1943.9 887.2 L3673.6 887.2" stroke="#08498a" stroke-width="2.083" fill="none" stroke-linejoin="round" stroke-linecap="square"/>
<path d="M243.0 2117.2 L957.3 2117.2 L966.7 1982.2 L976.1 1966.1 L1220.5 1966.1 L1229.9 1753.4 L1258.1 1753.4 L1267.5 1711.8 L1276.9 1666.1 L1286.3 1666.1 L1295.7 1594.9 L1305.1 1567.3 L1577.6 1567.3 L1587.0 1496.5 L1624.6 1496.5 L1634.0 1495.3 L1775.0 1495.3 L1784.4 1459.0 L1925.4 1459.0 L1934.8 1396.8 L3673.6 1396.8" stroke="#0b6cae" stroke-width="2.083" fill="none" stroke-linejoin="round" stroke-linecap="square"/>
<path d="M243.0 2117.2 L872.7 2117.2 L882.1 1921.3 L929.1 1921.3 L938.5 1914.8 L957.3 1914.8 L966.7 1803.7 L1060.7 1803.7 L1070.1 1803.1 L1079.5 1803.1 L1088.9 1786.7 L1182.9 1786.7 L1192.3 1696.1 L1474.3 1696.1 L1483.7 1665.4 L1502.5 1665.4 L1511.9 1556.6 L1671.6 1556.6 L1681.0 1256.5 L1760.0 1256.5 L1841.0 1256.5 L1850.0 1199.7 L3673.6 1199.7" stroke="#08589b" stroke-width="2.083" fill="none" stroke-linejoin="round" stroke-linecap="square"/>
<path d="M243.0 2117.2 L844.5 2117.2 L853.9 2110.6 L882.1 2110.6 L891.5 2108.2 L938.5 2108.2 L947.9 2103.5 L1004.3 2103.5 L1013.7 2045.8 L1041.9 2045.8 L1051.3 2033.9 L1070.1 2033.9 L1079.5 2013.0 L1126.5 2013.0 L1135.9 1978.2 L1164.1 1978.2 L1173.5 1974.9 L1201.7 1974.9 L1211.1 1974.6 L1239.3 1974.6 L1248.7 1974.2 L1258.1 1974.2 L1267.5 1969.9 L1286.3 1969.9 L1295.7 1958.1 L1436.7 1958.1 L1446.1 1957.4 L1455.5 1957.4 L1464.9 1953.7 L1493.1 1953.7 L1502.5 1926.1 L1511.9 1906.5 L1530.6 1906.5 L1540.0 1903.1 L1662.2 1903.1 L1671.6 1900.4 L1718.6 1900.4 L1728.0 1878.5 L2113.4 1878.5 L2122.8 1871.2 L3673.6 1871.2" stroke="#50b4d2" stroke-width="2.083" fill="none" stroke-linejoin="round" stroke-linecap="square"/>
<path d="M243.0 2117.2 L778.7 2117.2 L788.1 2063.3 L891.5 2063.3 L900.9 2045.3 L919.7 2045.3 L929.1 1818.9 L1173.5 1818.9 L1182.9 1747.5 L1239.3 1747.5 L1248.7 1599.2 L1314.5 1599.2 L1323.9 1555.6 L1493.1 1555.6 L1502.5 1242.1 L1756.2 1242.1 L1765.6 1077.3 L1803.4 1077.3 L1812.5 1034.9 L1832.0 1034.9 L1841.2 1007.0 L3673.6 1007.0" stroke="#084e90" stroke-width="2.083" fill="none" stroke-linejoin="round" stroke-linecap="square"/>
<path d="M243.0 2117.2 L487.4 2117.2 L496.8 2117.1 L778.7 2117.1 L788.1 2083.8 L844.5 2083.8 L853.9 2064.2 L1088.9 2064.2 L1098.3 2062.7 L1107.7 2062.7 L1117.1 2047.5 L1135.9 2047.5 L1145.3 2017.2 L1220.5 2017.2 L1229.9 1988.7 L1634.0 1988.7 L1643.4 1976.3 L3673.6 1976.3" stroke="#6bc3c9" stroke-width="2.083" fill="none" stroke-linejoin="round" stroke-linecap="square"/>
<path d="M243.0 2117.2 L853.9 2117.2 L863.3 2107.2 L882.1 2107.2 L891.5 2106.3 L929.1 2106.3 L938.5 2103.2 L1004.3 2103.2 L1013.7 2102.5 L1023.1 2084.6 L1192.3 2084.6 L1201.7 2079.9 L1220.5 2079.9 L1229.9 2079.6 L1248.7 2079.6 L1258.1 2077.0 L1305.1 2077.0 L1314.5 2066.5 L1436.7 2066.5 L1446.1 2064.0 L1464.9 2064.0 L1474.3 2058.4 L1521.3 2058.4 L1530.6 2056.5 L1587.0 2056.5 L1596.4 2054.2 L1605.8 2043.7 L1671.6 2043.7 L1681.0 2043.4 L1728.0 2043.4 L1737.4 2043.4 L1850.2 2043.4 L1859.6 2041.3 L1869.0 2041.3 L1878.4 2040.0 L3673.6 2040.0" stroke="#76c9c6" stroke-width="2.083" fill="none" stroke-linejoin="round" stroke-linecap="square"/>
<path d="M243.0 2117.2 L891.5 2117.2 L900.9 2036.2 L1088.9 2036.2 L1098.3 1958.0 L1145.3 1958.0 L1154.7 1956.8 L1220.5 1956.8 L1229.9 1951.9 L1276.9 1951.9 L1286.3 1895.6 L1305.1 1895.6 L1314.5 1754.8 L1380.3 1754.8 L1389.7 1613.9 L1399.1 1613.9 L1408.5 1531.3 L1549.4 1531.3 L1558.8 1507.3 L1718.6 1507.3 L1728.0 1360.0 L1875.3 1360.0 L1878.4 1302.7 L3673.6 1302.7" stroke="#085da0" stroke-width="2.083" fill="none" stroke-linejoin="round" stroke-linecap="square"/>
<path d="M243.0 2117.2 L835.1 2117.2 L844.5 2069.3 L872.7 2069.3 L882.1 2045.2 L900.9 2045.2 L910.3 2042.7 L919.7 2038.8 L938.5 2038.8 L947.9 1699.7 L1013.7 1699.7 L1023.1 1670.9 L1135.9 1670.9 L1145.3 1665.5 L1248.7 1665.5 L1258.1 1641.4 L1267.5 1619.8 L1352.1 1619.8 L1361.5 1596.0 L1399.1 1596.0 L1408.5 1422.1 L1446.1 1422.1 L1455.5 1335.6 L1502.5 1335.6 L1511.9 1335.5 L1624.6 1335.5 L1634.0 1264.6 L1671.6 1264.6 L1681.0 1240.6 L1760.0 1240.6 L1766.0 1240.6 L1774.9 1231.7 L1935.4 1231.7 L1943.8 1104.5 L3673.6 1104.5" stroke="#085395" stroke-width="2.083" fill="none" stroke-linejoin="round" stroke-linecap="square"/>
<path d="M243.0 2117.2 L806.9 2117.2 L816.3 2108.7 L910.3 2108.7 L919.7 2102.1 L929.1 2096.9 L947.9 2096.9 L957.3 2085.4 L1004.3 2085.4 L1013.7 2081.1 L1023.1 2028.2 L1032.5 2019.1 L1041.9 2019.1 L1051.3 2013.8 L1070.1 2013.8 L1079.5 2006.1 L1088.9 1994.8 L1211.1 1994.8 L1220.5 1906.3 L1229.9 1905.1 L1370.9 1905.1 L1380.3 1894.7 L1389.7 1894.7 L1399.1 1883.2 L1417.9 1883.2 L1427.3 1840.2 L1502.5 1840.2 L1511.9 1835.1 L1652.8 1835.1 L1662.2 1834.7 L1718.6 1834.7 L1728.0 1828.9 L1803.2 1828.9 L1812.6 1827.9 L1840.8 1827.9 L1850.2 1822.5 L3673.6 1822.5" stroke="#4bb0d1" stroke-width="2.083" fill="none" stroke-linejoin="round" stroke-linecap="square"/>
<path d="M243.0 2117.2 L1135.9 2117.2 L1145.3 1923.9 L1164.1 1923.9 L1173.5 1856.4 L1258.1 1856.4 L1267.5 1851.9 L1295.7 1851.9 L1305.1 1806.1 L1568.2 1806.1 L1577.6 1798.6 L1690.4 1798.6 L1699.8 1774.0 L1953.6 1774.0 L1963.0 1764.0 L1972.4 1761.6 L3673.6 1761.6" stroke="#41a5cb" stroke-width="2.083" fill="none" stroke-linejoin="round" stroke-linecap="square"/>
<path d="M243.0 2117.2 L712.9 2117.2 L722.3 2117.2 L769.3 2117.2 L778.7 2113.5 L872.7 2113.5 L882.1 2069.3 L891.5 2067.6 L1013.7 2067.6 L1023.1 2047.3 L1098.3 2047.3 L1107.7 2034.8 L1154.7 2034.8 L1164.1 1987.9 L1173.5 1721.3 L1182.9 1700.9 L1192.3 1624.5 L1229.9 1624.5 L1239.3 1617.9 L1248.7 1617.9 L1258.1 1600.6 L1276.9 1600.6 L1286.3 1591.4 L1615.2 1591.4 L1624.6 1588.0 L3673.6 1588.0" stroke="#2a8bbe" stroke-width="2.083" fill="none" stroke-linejoin="round" stroke-linecap="square"/>
<path d="M243.0 2117.2 L778.7 2117.2 L788.1 2063.7 L938.5 2063.7 L947.9 2061.0 L985.5 2061.0 L994.9 2049.8 L1088.9 2049.8 L1098.3 1884.2 L1107.7 1884.2 L1117.1 1868.6 L1126.5 1860.2 L1370.9 1860.2 L1380.3 1818.2 L1389.7 1808.3 L1399.1 1808.3 L1408.5 1803.1 L1427.3 1803.1 L1436.7 1799.6 L1511.9 1799.6 L1521.3 1755.0 L1587.0 1755.0 L1596.4 1720.0 L1605.8 1718.1 L1690.4 1718.1 L1699.8 1714.8 L1737.4 1714.8 L1746.8 1672.1 L1784.4 1672.1 L1793.8 1670.4 L2141.6 1670.4 L2151.0 1656.2 L3673.6 1656.2" stroke="#3597c4" stroke-width="2.083" fill="none" stroke-linejoin="round" stroke-linecap="square"/>
<path d="M243.0 2117.2 L694.1 2117.2 L703.5 2107.0 L985.5 2107.0 L994.9 1966.5 L1070.1 1966.5 L1079.5 1859.4 L1088.9 1859.4 L1098.3 1836.1 L1117.1 1836.1 L1126.5 1777.5 L1164.1 1777.5 L1173.5 1768.4 L1276.9 1768.4 L1286.3 1767.2 L1399.1 1767.2 L1408.5 1757.3 L1417.9 1737.4 L1483.7 1737.4 L1493.1 1707.8 L1502.5 1658.8 L1643.4 1658.8 L1652.8 1639.1 L1699.8 1639.1 L1709.2 1629.2 L3673.6 1629.2" stroke="#3395c3" stroke-width="2.083" fill="none" stroke-linejoin="round" stroke-linecap="square"/>
<path d="M243.0 2117.2 L656.6 2117.2 L666.0 2063.2 L872.7 2063.2 L882.1 1979.0 L1079.5 1979.0 L1088.9 1937.3 L1164.1 1937.3 L1173.5 1928.7 L1248.7 1928.7 L1258.1 1776.0 L1305.1 1776.0 L1314.5 1755.7 L1474.3 1755.7 L1483.7 1576.2 L1652.8 1576.2 L1662.2 1540.0 L1756.2 1540.0 L1765.6 1498.4 L3673.6 1498.4" stroke="#1a7ab5" stroke-width="2.083" fill="none" stroke-linejoin="round" stroke-linecap="square"/>
<path d="M243.0 2117.2 L484.0 2117.2 L492.7 2103.4 L505.3 2061.7 L515.7 2003.2 L524.1 1889.6 L1000.0 1889.6 L1051.3 1889.6 L1060.7 1884.4 L1070.1 1829.7 L1107.7 1829.7 L1117.1 1790.8 L1126.5 1790.8 L1135.9 1787.3 L1154.7 1787.3 L1164.1 1776.1 L1211.1 1776.1 L1220.5 1707.8 L1229.9 1707.8 L1239.3 1700.6 L1276.9 1700.6 L1286.3 1665.0 L1314.5 1665.0 L1323.9 1662.7 L1333.3 1606.3 L1361.5 1606.3 L1370.9 1605.6 L1380.3 1584.1 L1389.7 1552.4 L1615.2 1552.4 L1624.6 1549.8 L1634.0 1509.7 L3673.6 1509.7" stroke="#1c7cb6" stroke-width="2.083" fill="none" stroke-linejoin="round" stroke-linecap="square"/>
<path d="M243.0 2117.2 L835.1 2117.2 L844.5 2115.9 L882.1 2115.9 L891.5 2115.7 L1032.5 2115.7 L1041.9 2115.2 L1239.3 2115.2 L1248.7 2114.4 L1267.5 2114.4 L1276.9 2113.8 L1286.3 2113.8 L1295.7 2113.7 L1352.1 2113.7 L1361.5 2113.5 L1370.9 2113.5 L1380.3 2104.5 L1483.7 2104.5 L1493.1 2104.0 L1511.9 2104.0 L1521.3 2103.1 L1577.6 2103.1 L1587.0 2102.2 L1652.8 2102.2 L1662.2 2087.2 L1916.0 2087.2 L1925.4 2082.5 L3673.6 2082.5" stroke="#7accc4" stroke-width="2.083" fill="none" stroke-linejoin="round" stroke-linecap="square"/>
<path d="M243.0 2117.2 L684.7 2117.2 L694.1 2091.8 L722.3 2091.8 L731.7 2035.0 L891.5 2035.0 L900.9 1990.2 L910.3 1990.2 L919.7 1964.2 L1088.9 1964.2 L1098.3 1847.7 L1173.5 1847.7 L1182.9 1847.5 L1211.1 1847.5 L1220.5 1824.5 L1229.9 1710.4 L1258.1 1710.4 L1267.5 1673.9 L1314.5 1673.9 L1323.9 1673.5 L1361.5 1673.5 L1370.9 1664.3 L1380.3 1664.3 L1389.7 1664.0 L1399.1 1639.0 L1436.7 1639.0 L1446.1 1629.4 L1455.5 1629.4 L1464.9 1590.4 L1502.5 1590.4 L1511.9 1569.0 L1549.4 1569.0 L1558.8 1540.5 L1568.2 1540.5 L3673.6 1540.5" stroke="#2081b8" stroke-width="2.083" fill="none" stroke-linejoin="round" stroke-linecap="square"/>
<path d="M243.0 2117.2 L976.1 2117.2 L985.5 2107.0 L1041.9 2107.0 L1051.3 2106.6 L1060.7 2088.0 L1070.1 2075.9 L1079.5 2073.9 L1107.7 2073.9 L1117.1 2059.8 L1126.5 2059.2 L1154.7 2059.2 L1164.1 2058.1 L1239.3 2058.1 L1248.7 2049.6 L1295.7 2049.6 L1305.1 2022.4 L1342.7 2022.4 L1352.1 2021.9 L1380.3 2021.9 L1389.7 2014.4 L1427.3 2014.4 L1436.7 1971.2 L1483.7 1971.2 L1493.1 1950.9 L1502.5 1922.7 L1605.8 1922.7 L1615.2 1919.5 L1624.6 1896.3 L1652.8 1896.3 L1662.2 1896.2 L1887.8 1896.2 L1897.2 1889.5 L1906.6 1889.5 L1916.0 1886.4 L1925.4 1873.7 L3673.6 1873.7" stroke="#51b5d2" stroke-width="2.083" fill="none" stroke-linejoin="round" stroke-linecap="square"/>
<path d="M243.0 2117.2 L694.1 2117.2 L703.5 2113.8 L900.9 2113.8 L910.3 1993.7 L919.7 1993.2 L966.7 1993.2 L976.1 1954.7 L1135.9 1954.7 L1145.3 1953.4 L1154.7 1943.6 L1333.3 1943.6 L1342.7 1936.1 L1352.1 1910.8 L1399.1 1910.8 L1408.5 1891.1 L1502.5 1891.1 L1511.9 1871.1 L1756.2 1871.1 L1765.6 1761.2 L1822.0 1761.2 L1831.4 1549.2 L1840.8 1549.2 L1850.2 1531.0 L3673.6 1531.0" stroke="#1d7eb7" stroke-width="2.083" fill="none" stroke-linejoin="round" stroke-linecap="square"/>
<path d="M243.0 2117.2 L694.1 2117.2 L703.5 2036.7 L976.1 2036.7 L985.5 1987.6 L994.9 1979.9 L1051.3 1979.9 L1060.7 1960.7 L1173.5 1960.7 L1182.9 1922.1 L1192.3 1901.3 L1474.3 1901.3 L1483.7 1792.7 L1521.3 1792.7 L1530.6 1786.5 L1540.0 1786.5 L1549.4 1747.7 L1699.8 1747.7 L1709.2 1697.4 L1718.6 1603.8 L1793.8 1603.8 L1803.2 1591.0 L1812.6 1591.0 L1822.0 1576.9 L3673.6 1576.9" stroke="#2788bc" stroke-width="2.083" fill="none" stroke-linejoin="round" stroke-linecap="square"/>
<path d="M243.0 2117.2 L731.7 2117.2 L741.1 2104.8 L900.9 2104.8 L910.3 2102.3 L957.3 2102.3 L966.7 2066.3 L1013.7 2066.3 L1023.1 2031.4 L1041.9 2031.4 L1051.3 1998.3 L1145.3 1998.3 L1154.7 1944.5 L1164.1 1855.9 L1173.5 1855.9 L1182.9 1761.3 L1248.7 1761.3 L1258.1 1732.0 L1267.5 1714.3 L1276.9 1714.3 L1286.3 1710.3 L1333.3 1710.3 L1342.7 1693.8 L1361.5 1693.8 L1370.9 1591.0 L1427.3 1591.0 L1436.7 1565.7 L1502.5 1565.7 L1511.9 1564.6 L1605.8 1564.6 L1615.2 1479.5 L1624.6 1479.5 L1634.0 1479.5 L1887.8 1479.5 L1897.2 1465.9 L2094.6 1465.9 L2104.0 1465.7 L3673.6 1465.7" stroke="#1475b2" stroke-width="2.083" fill="none" stroke-linejoin="round" stroke-linecap="square"/>
<path d="M243.0 2117.2 L910.3 2117.2 L919.7 2111.7 L947.9 2111.7 L957.3 2108.1 L1201.7 2108.1 L1211.1 2101.0 L1258.1 2101.0 L1267.5 2082.7 L1305.1 2082.7 L1314.5 2080.2 L1323.9 2078.6 L1333.3 2078.6 L1342.7 2078.5 L1352.1 2077.3 L1370.9 2077.3 L1380.3 2074.0 L1502.5 2074.0 L1511.9 2029.6 L1916.0 2029.6 L1925.4 2015.7 L3673.6 2015.7" stroke="#72c7c7" stroke-width="2.083" fill="none" stroke-linejoin="round" stroke-linecap="square"/>
<path d="M243.0 2117.2 L675.3 2117.2 L684.7 2002.2 L722.3 2002.2 L731.7 1920.8 L985.5 1920.8 L994.9 1831.7 L1041.9 1831.7 L1051.3 1827.1 L1164.1 1827.1 L1173.5 1811.7 L1408.5 1811.7 L1417.9 1675.8 L1427.3 1675.8 L1436.7 1627.3 L1446.1 1611.6 L1455.5 1422.1 L1587.0 1422.1 L1596.4 1417.8 L1634.0 1417.8 L1643.4 1407.0 L1709.2 1407.0 L1718.6 1276.4 L1775.0 1276.4 L1784.4 1266.9 L1887.8 1266.9 L1897.3 850.5 L1906.7 836.1 L1991.6 836.1 L2001.0 821.1 L3673.6 821.1" stroke="#084688" stroke-width="2.083" fill="none" stroke-linejoin="round" stroke-linecap="square"/>
<path d="M243.0 2117.2 L769.3 2117.2 L778.7 1904.6 L900.9 1904.6 L910.3 1900.7 L947.9 1900.7 L957.3 1759.7 L966.7 1759.7 L976.1 1735.1 L1023.1 1735.1 L1032.5 1710.0 L1041.9 1698.8 L1051.3 1696.5 L1079.5 1696.5 L1088.9 1637.7 L1107.7 1637.7 L1117.1 1625.9 L1164.1 1625.9 L1173.5 1589.9 L1182.9 1583.2 L1286.3 1583.2 L1295.7 1559.9 L1323.9 1559.9 L1333.3 1507.6 L1342.7 1499.5 L1352.1 1483.5 L1634.0 1483.5 L1643.4 1413.6 L1850.2 1413.6 L1859.6 1362.9 L3673.6 1362.9" stroke="#0868ac" stroke-width="2.083" fill="none" stroke-linejoin="round" stroke-linecap="square"/>
<path d="M243.0 2117.2 L863.3 2117.2 L872.7 2049.8 L891.5 2049.8 L900.9 2048.6 L910.3 2043.6 L919.7 2043.6 L929.1 1976.6 L1079.5 1976.6 L1088.9 1968.4 L1098.3 1968.4 L1107.7 1956.2 L1117.1 1855.4 L1201.7 1855.4 L1211.1 1725.4 L1220.5 1665.7 L1229.9 1665.7 L1239.3 1642.2 L1258.1 1642.2 L1267.5 1536.7 L1323.9 1536.7 L1333.3 1532.3 L1408.5 1532.3 L1417.9 1488.0 L1446.1 1488.0 L1455.5 1427.1 L1464.9 1427.1 L1474.3 1411.8 L1558.8 1411.8 L1568.2 1383.4 L1577.6 1383.4 L1587.0 1381.6 L1596.4 1381.6 L1605.8 1380.8 L1699.8 1380.8 L1709.2 1344.5 L2113.4 1344.5 L2122.8 1342.9 L3673.6 1342.9" stroke="#0862a5" stroke-width="2.083" fill="none" stroke-linejoin="round" stroke-linecap="square"/>
<path d="M243.0 2117.2 L1051.3 2117.2 L1060.7 2116.1 L1135.9 2116.1 L1145.3 2073.5 L1182.9 2073.5 L1192.3 1587.9 L1220.5 1587.9 L1229.9 1574.3 L1239.3 1574.3 L1248.7 1513.5 L1333.3 1513.5 L1342.7 1408.2 L1380.3 1408.2 L1389.7 1328.0 L1427.3 1328.0 L1436.7 1258.1 L1540.0 1258.1 L1549.4 1254.1 L1615.2 1254.1 L1624.6 1198.3 L1728.0 1198.3 L1737.4 874.7 L1746.8 874.7 L1972.2 874.7 L1981.7 841.5 L2001.0 841.5 L2010.0 819.3 L3673.6 819.3" stroke="#084485" stroke-width="2.083" fill="none" stroke-linejoin="round" stroke-linecap="square"/>
<path d="M243.0 2117.2 L694.1 2117.2 L703.5 1938.1 L741.1 1938.1 L750.5 1921.0 L769.3 1921.0 L778.7 1876.6 L947.9 1876.6 L957.3 1837.5 L966.7 1836.5 L1079.5 1836.5 L1088.9 1835.0 L1117.1 1835.0 L1126.5 1818.0 L1145.3 1818.0 L1154.7 1794.2 L1427.3 1794.2 L1436.7 1790.0 L1568.2 1790.0 L1577.6 1742.4 L1587.0 1741.1 L1624.6 1741.1 L1634.0 1725.1 L1718.6 1725.1 L1728.0 1693.9 L1737.4 1693.9 L1746.8 1693.0 L3673.6 1693.0" stroke="#3ea1c9" stroke-width="2.083" fill="none" stroke-linejoin="round" stroke-linecap="square"/>
<path d="M243.0 2117.2 L750.5 2117.2 L759.9 2116.6 L806.9 2116.6 L816.3 2102.4 L1041.9 2102.4 L1051.3 2032.9 L1060.7 2032.9 L1070.1 2024.2 L1079.5 2007.1 L1135.9 2007.1 L1145.3 1778.6 L1173.5 1778.6 L1182.9 1638.5 L1192.3 1601.5 L1201.7 1601.5 L1211.1 1599.5 L1258.1 1599.5 L1267.5 1561.1 L1276.9 1561.0 L1323.9 1561.0 L1333.3 1367.9 L1352.1 1367.9 L1361.5 1356.3 L1380.3 1356.3 L1389.7 1292.7 L1643.4 1292.7 L1652.8 1180.4 L1746.8 1180.4 L1756.2 1174.1 L1760.0 1174.1 L1766.0 1164.5 L1775.6 1158.5 L1784.0 1128.0 L1803.2 1128.0 L1812.8 1114.8 L2019.4 1114.8 L2029.0 1097.8 L3673.6 1097.8" stroke="#085294" stroke-width="2.083" fill="none" stroke-linejoin="round" stroke-linecap="square"/>
<path d="M243.0 2117.2 L994.9 2117.2 L1004.3 2000.0 L1117.1 2000.0 L1126.5 1973.7 L1276.9 1973.7 L1286.3 1964.4 L1295.7 1858.1 L1323.9 1858.1 L1333.3 1795.1 L1342.7 1795.1 L1352.1 1607.8 L1483.7 1607.8 L1493.1 1493.4 L1521.3 1493.4 L1530.6 1478.7 L1577.6 1478.7 L1587.0 1384.8 L1746.8 1384.8 L1756.2 1340.6 L1760.0 1340.6 L1822.0 1340.6 L1832.0 1331.4 L1841.0 1311.7 L3673.6 1311.7" stroke="#085fa3" stroke-width="2.083" fill="none" stroke-linejoin="round" stroke-linecap="square"/>
<path d="M243.0 2117.2 L966.7 2117.2 L976.1 2112.3 L985.5 2034.8 L994.9 2034.8 L1004.3 2025.7 L1023.1 2025.7 L1032.5 2010.7 L1041.9 1971.6 L1107.7 1971.6 L1117.1 1936.7 L1126.5 1936.7 L1135.9 1936.5 L1154.7 1936.5 L1164.1 1936.4 L1267.5 1936.4 L1276.9 1757.0 L1295.7 1757.0 L1305.1 1743.0 L1314.5 1743.0 L1323.9 1739.7 L1370.9 1739.7 L1380.3 1739.3 L1624.6 1739.3 L1634.0 1728.4 L1728.0 1728.4 L1737.4 1705.9 L1859.6 1705.9 L1869.0 1664.1 L3673.6 1664.1" stroke="#389bc6" stroke-width="2.083" fill="none" stroke-linejoin="round" stroke-linecap="square"/>
<path d="M243.0 2117.2 L863.3 2117.2 L872.7 2051.0 L900.9 2051.0 L910.3 2039.5 L1004.3 2039.5 L1013.7 2032.2 L1023.1 2032.2 L1032.5 1733.6 L1248.7 1733.6 L1258.1 1657.0 L1446.1 1657.0 L1455.5 1597.9 L1540.0 1597.9 L1549.4 1596.5 L1662.2 1596.5 L1671.6 1569.0 L3673.6 1569.0" stroke="#2687bb" stroke-width="2.083" fill="none" stroke-linejoin="round" stroke-linecap="square"/>
<path d="M243.0 2117.2 L850.0 2117.2 L860.0 2105.0 L930.0 2105.0 L940.0 2090.0 L980.0 2088.0 L990.8 1785.0 L994.2 1759.8 L1043.5 1759.8 L1060.6 1695.6 L1107.4 1694.8 L1116.9 1675.6 L1126.7 1433.5 L1136.4 1424.3 L1145.3 1383.7 L1154.8 1383.7 L1164.3 1280.0 L1173.3 1183.0 L1183.4 1141.4 L1192.7 1127.6 L1202.0 1127.6 L1211.7 970.8 L1220.6 965.6 L1267.5 965.6 L1277.2 956.3 L1324.0 956.3 L1333.7 950.6 L1352.4 950.6 L1362.0 945.0 L1380.2 945.0 L1389.5 911.4 L1417.8 911.4 L1427.9 906.1 L1493.4 906.1 L1502.7 885.9 L1512.0 871.8 L1521.7 871.8 L1531.0 862.5 L1540.3 848.3 L1549.6 842.2 L1558.9 809.0 L1662.7 809.0 L1672.0 797.8 L1681.3 792.0 L1690.6 777.7 L1728.4 777.7 L1737.7 762.5 L1747.3 753.8 L1840.9 753.8 L1850.2 664.0 L1859.5 621.2 L1953.1 621.2 L1963.3 592.7 L2009.8 592.7 L2019.1 564.9 L3673.6 564.9" stroke="#084081" stroke-width="2.083" fill="none" stroke-linejoin="round" stroke-linecap="square"/>
<path d="M243.0 2117.2 L722.3 2117.2 L731.7 2089.0 L1117.1 2089.0 L1126.5 1910.2 L1258.1 1910.2 L1267.5 1841.4 L1276.9 1824.8 L1295.7 1824.8 L1305.1 1528.4 L1342.7 1528.4 L1352.1 1391.0 L1380.3 1391.0 L1389.7 1354.6 L1577.6 1354.6 L1587.0 1164.8 L1615.2 1164.8 L1624.6 1154.9 L1760.0 1154.9 L1784.0 1154.9 L1793.6 1113.4 L3673.6 1113.4" stroke="#085598" stroke-width="2.083" fill="none" stroke-linejoin="round" stroke-linecap="square"/>
<path d="M243.0 2117.2 L778.7 2117.2 L788.1 2103.9 L835.1 2103.9 L844.5 2101.8 L919.7 2101.8 L929.1 2093.9 L1060.7 2093.9 L1070.1 2007.3 L1079.5 1967.9 L1117.1 1967.9 L1126.5 1960.4 L1173.5 1960.4 L1182.9 1899.4 L1192.3 1820.5 L1211.1 1820.5 L1220.5 1819.6 L1248.7 1819.6 L1258.1 1776.1 L1333.3 1776.1 L1342.7 1724.4 L1427.3 1724.4 L1436.7 1719.1 L1455.5 1719.1 L1464.9 1578.0 L1483.7 1578.0 L1493.1 1531.5 L1521.3 1531.5 L1530.6 1498.4 L1540.0 1214.6 L1671.6 1214.6 L1681.0 1150.6 L1699.8 1150.6 L1709.2 965.0 L1717.5 965.0 L1803.4 965.0 L1811.4 950.8 L1850.3 950.8 L1859.5 936.7 L3673.6 936.7" stroke="#084b8d" stroke-width="2.083" fill="none" stroke-linejoin="round" stroke-linecap="square"/>
<path d="M243.0 2117.2 L562.6 2117.2 L572.0 2116.3 L722.3 2116.3 L731.7 2114.0 L844.5 2114.0 L853.9 2086.1 L872.7 2086.1 L882.1 2079.0 L976.1 2079.0 L985.5 2073.4 L1041.9 2073.4 L1051.3 2048.4 L1173.5 2048.4 L1182.9 1991.5 L1201.7 1991.5 L1211.1 1980.7 L1267.5 1980.7 L1276.9 1978.6 L1286.3 1978.6 L1295.7 1975.6 L1352.1 1975.6 L1361.5 1975.2 L1511.9 1975.2 L1521.3 1970.5 L1587.0 1970.5 L1596.4 1956.9 L1624.6 1956.9 L1634.0 1935.5 L1652.8 1935.5 L1662.2 1926.3 L1925.4 1926.3 L1934.8 1918.1 L3673.6 1918.1" stroke="#5fbdcd" stroke-width="2.083" fill="none" stroke-linejoin="round" stroke-linecap="square"/>
<path d="M243.0 2117.2 L835.1 2117.2 L844.5 2104.9 L853.9 2104.9 L863.3 2048.7 L872.7 2048.7 L882.1 1969.6 L929.1 1969.6 L938.5 1961.5 L1248.7 1961.5 L1258.1 1957.2 L1389.7 1957.2 L1399.1 1954.9 L1436.7 1954.9 L1446.1 1938.1 L1464.9 1938.1 L1474.3 1933.0 L1577.6 1933.0 L1587.0 1914.7 L1699.8 1914.7 L1709.2 1913.1 L1916.0 1913.1 L1925.4 1885.9 L3673.6 1885.9" stroke="#56b7d0" stroke-width="2.083" fill="none" stroke-linejoin="round" stroke-linecap="square"/>
<path d="M243.0 2117.2 L421.6 2117.2 L431.0 2116.9 L731.7 2116.9 L741.1 2115.2 L788.1 2115.2 L797.5 2098.8 L816.3 2098.8 L825.7 2094.2 L994.9 2094.2 L1004.3 2093.3 L1051.3 2093.3 L1060.7 2071.3 L1070.1 2071.3 L1079.5 2068.6 L1107.7 2068.6 L1117.1 2009.7 L1126.5 2009.7 L1135.9 2006.5 L1145.3 2006.5 L1154.7 2006.2 L1164.1 2006.2 L1173.5 1929.6 L1436.7 1929.6 L1446.1 1906.3 L1455.5 1901.7 L1963.0 1901.7 L1972.4 1893.7 L3673.6 1893.7" stroke="#5abacf" stroke-width="2.083" fill="none" stroke-linejoin="round" stroke-linecap="square"/>
<path d="M243.0 2117.2 L778.7 2117.2 L788.1 2036.3 L1107.7 2036.3 L1117.1 1911.2 L1182.9 1911.2 L1192.3 1910.8 L1248.7 1910.8 L1258.1 1899.3 L1276.9 1899.3 L1286.3 1893.5 L1295.7 1885.3 L1342.7 1885.3 L1352.1 1842.8 L1464.9 1842.8 L1474.3 1829.7 L1483.7 1669.8 L1624.6 1669.8 L1634.0 1558.8 L1671.6 1558.8 L1681.0 1344.6 L1793.6 1344.6 L1812.8 1291.4 L3673.6 1291.4" stroke="#085c9f" stroke-width="2.083" fill="none" stroke-linejoin="round" stroke-linecap="square"/>
<path d="M243.0 2117.2 L1078.0 2117.2 L1087.0 2113.6 L1736.0 2113.6 L1745.0 2109.2 L1840.0 2109.2 L1850.0 2095.0 L3673.6 2095.0" stroke="#6baed6" stroke-width="20.833" fill="none" stroke-linejoin="round" stroke-linecap="square"/>
<path d="M243.0 2117.2 L464.0 2115.5 L624.0 2110.0 L784.0 2100.0 L838.0 2094.0 L877.0 2088.0 L944.0 2069.0 L979.0 2058.0 L1000.0 2052.0 L1048.0 2036.0 L1096.0 2012.0 L1144.0 1984.0 L1192.0 1956.6 L1240.0 1925.4 L1288.0 1896.5 L1336.0 1867.7 L1384.0 1846.0 L1432.0 1830.5 L1480.0 1815.0 L1528.0 1798.0 L1576.0 1783.6 L1600.0 1775.0 L1642.0 1761.0 L1684.0 1748.0 L1754.0 1727.0 L1824.0 1713.0 L1880.0 1703.0 L1950.0 1696.0 L2020.0 1692.0 L2104.0 1688.5 L3673.6 1688.5" stroke="#2171b5" stroke-width="20.833" fill="none" stroke-linejoin="round" stroke-linecap="square"/>
<path d="M243.0 2117.2 L628.0 2117.2 L634.0 2089.5 L640.0 2089.5 L648.0 2061.5 L749.0 2061.5 L760.0 2023.5 L786.0 2023.5 L800.0 1996.0 L808.0 1996.0 L817.0 1957.0 L823.0 1900.0 L829.0 1843.0 L836.0 1826.0 L1024.5 1826.0 L1031.0 1772.0 L1154.0 1772.0 L1162.0 1735.0 L1170.0 1715.0 L1180.0 1664.0 L1198.0 1664.0 L1202.0 1654.0 L1208.0 1541.0 L1222.0 1538.0 L1234.0 1501.0 L1269.0 1499.0 L1275.0 1443.5 L1377.0 1443.5 L1387.0 1415.0 L1395.0 1413.0 L1405.0 1343.0 L1416.0 1342.0 L1424.0 1291.0 L1434.0 1260.0 L1501.0 1257.0 L1511.0 1241.3 L1579.0 1241.3 L1584.0 1058.5 L1683.0 1058.5 L1697.0 979.0 L1726.0 979.0 L1744.0 950.0 L1767.0 950.0 L1773.0 876.0 L1783.0 843.4 L1888.0 843.4 L1898.0 643.6 L1972.0 643.6 L1982.0 550.6 L3673.6 550.6" stroke="#08306b" stroke-width="20.833" fill="none" stroke-linejoin="round" stroke-linecap="square"/>
<path d="M243.0 2118.5 L806.0 2118.5 L815.0 2095.0 L946.0 2095.0 L955.0 2069.5 L1386.0 2069.5 L1395.0 1984.0 L1404.0 1971.0 L1424.0 1971.0 L1434.0 1913.6 L1454.0 1912.0 L1471.0 1897.0 L1481.0 1895.0 L1491.0 1870.0 L1538.0 1868.0 L1548.0 1645.0 L1557.0 1613.0 L2133.4 1612.6 L2161.6 1607.3" stroke="#000000" stroke-width="20.833" fill="none" stroke-linejoin="round" stroke-linecap="square"/>
<circle cx="2161.6" cy="1607.3" r="20.83" fill="#000"/>
</g>
<rect x="196.5" y="270.5" width="3487.0" height="1848.0" fill="none" stroke="#fff" stroke-width="3.333"/>
<text x="269.7" y="329.1" font-size="29.17">Generated by Jared Rennie (@jjrennie) on: 2021-09-28 08:35 Eastern. Data up to 20210423</text>
<text x="884.9" y="94.1" font-size="83.333">2020-2021 Accumulated Snowfall For Piqua, OH</text>
<text x="1939.3" y="245.1" font-size="50" text-anchor="middle">GHCN-D ID= USC00336645 | LAT= 40.1525 | LON= -84.2372 | ELEV= 860' | Period= 1910-2021 | Season To Date Report= 56%</text>
<text x="167.3" y="2132.3" font-size="41.667" text-anchor="end">0&quot;</text>
<text x="167.3" y="1848.1" font-size="41.667" text-anchor="end">10&quot;</text>
<text x="167.3" y="1563.9" font-size="41.667" text-anchor="end">20&quot;</text>
<text x="167.3" y="1279.7" font-size="41.667" text-anchor="end">30&quot;</text>
<text x="167.3" y="995.5" font-size="41.667" text-anchor="end">40&quot;</text>
<text x="167.3" y="711.3" font-size="41.667" text-anchor="end">50&quot;</text>
<text x="167.3" y="427.1" font-size="41.667" text-anchor="end">60&quot;</text>
<text x="243.0" y="2178.0" font-size="41.667" text-anchor="middle">Oct 1</text>
<text x="534.0" y="2178.0" font-size="41.667" text-anchor="middle">Nov 1</text>
<text x="807.0" y="2178.0" font-size="41.667" text-anchor="middle">Dec 1</text>
<text x="1098.0" y="2178.0" font-size="41.667" text-anchor="middle">Jan 1</text>
<text x="1380.0" y="2178.0" font-size="41.667" text-anchor="middle">Feb 1</text>
<text x="1672.0" y="2178.0" font-size="41.667" text-anchor="middle">Mar 1</text>
<text x="1954.0" y="2178.0" font-size="41.667" text-anchor="middle">Apr 1</text>
<text x="2245.0" y="2178.0" font-size="41.667" text-anchor="middle">May 1</text>
<text x="2537.0" y="2178.0" font-size="41.667" text-anchor="middle">Jun 1</text>
<text x="2819.0" y="2178.0" font-size="41.667" text-anchor="middle">Jul 1</text>
<text x="3110.0" y="2178.0" font-size="41.667" text-anchor="middle">Aug 1</text>
<text x="3392.0" y="2178.0" font-size="41.667" text-anchor="middle">Sep 1</text>
<text x="3712.7" y="2132.0" font-size="41.667">0</text>
<text x="3712.7" y="1908.2" font-size="41.667">200</text>
<text x="3712.7" y="1684.4" font-size="41.667">400</text>
<text x="3712.7" y="1460.7" font-size="41.667">600</text>
<text x="3712.7" y="1236.9" font-size="41.667">800</text>
<text x="3712.7" y="1013.1" font-size="41.667">1000</text>
<text x="3712.7" y="789.3" font-size="41.667">1200</text>
<text x="3712.7" y="565.5" font-size="41.667">1400</text>
<text x="3712.7" y="341.8" font-size="41.667">1600</text>
<path d="M3683.5 2117.2H3698.6M3683.5 1893.4H3698.6M3683.5 1669.6H3698.6M3683.5 1445.9H3698.6M3683.5 1222.1H3698.6M3683.5 998.3H3698.6M3683.5 774.5H3698.6M3683.5 550.7H3698.6M3683.5 327.0H3698.6" stroke="#fff" stroke-width="3.333" fill="none"/>
<text transform="translate(67.1 1195.0) rotate(-90)" font-size="50" text-anchor="middle">Accumulated Snowfall (inches)</text>
<text transform="translate(3864.1 1194.5) rotate(90)" font-size="50" text-anchor="middle">Accumulated Snowfall (mm)</text>
<rect x="196.3" y="2218.0" width="3486.5" height="87.7" rx="10" ry="10" fill="#666666" stroke="#b0b0b0" stroke-width="3.333"/>
<rect x="206.1" y="2249.1" width="120.9" height="20.833" fill="#08306b"/>
<text x="356.6" y="2277.0" font-size="50">Max (1911-1912):   55.1&quot;</text>
<rect x="1083.9" y="2249.1" width="120.9" height="20.833" fill="#6baed6"/>
<text x="1234.4" y="2277.0" font-size="50">Min (1997-1998):    0.8&quot;</text>
<rect x="1931.1" y="2249.1" width="120.9" height="20.833" fill="#2171b5"/>
<text x="2081.6" y="2277.0" font-size="50">Avg (1991-2020):   15.2&quot;</text>
<rect x="2799.0" y="2249.1" width="120.9" height="20.833" fill="#000000"/>
<text x="2949.5" y="2277.0" font-size="50">Current (2020-2021):   18.0&quot;</text>
</svg></body></html>
